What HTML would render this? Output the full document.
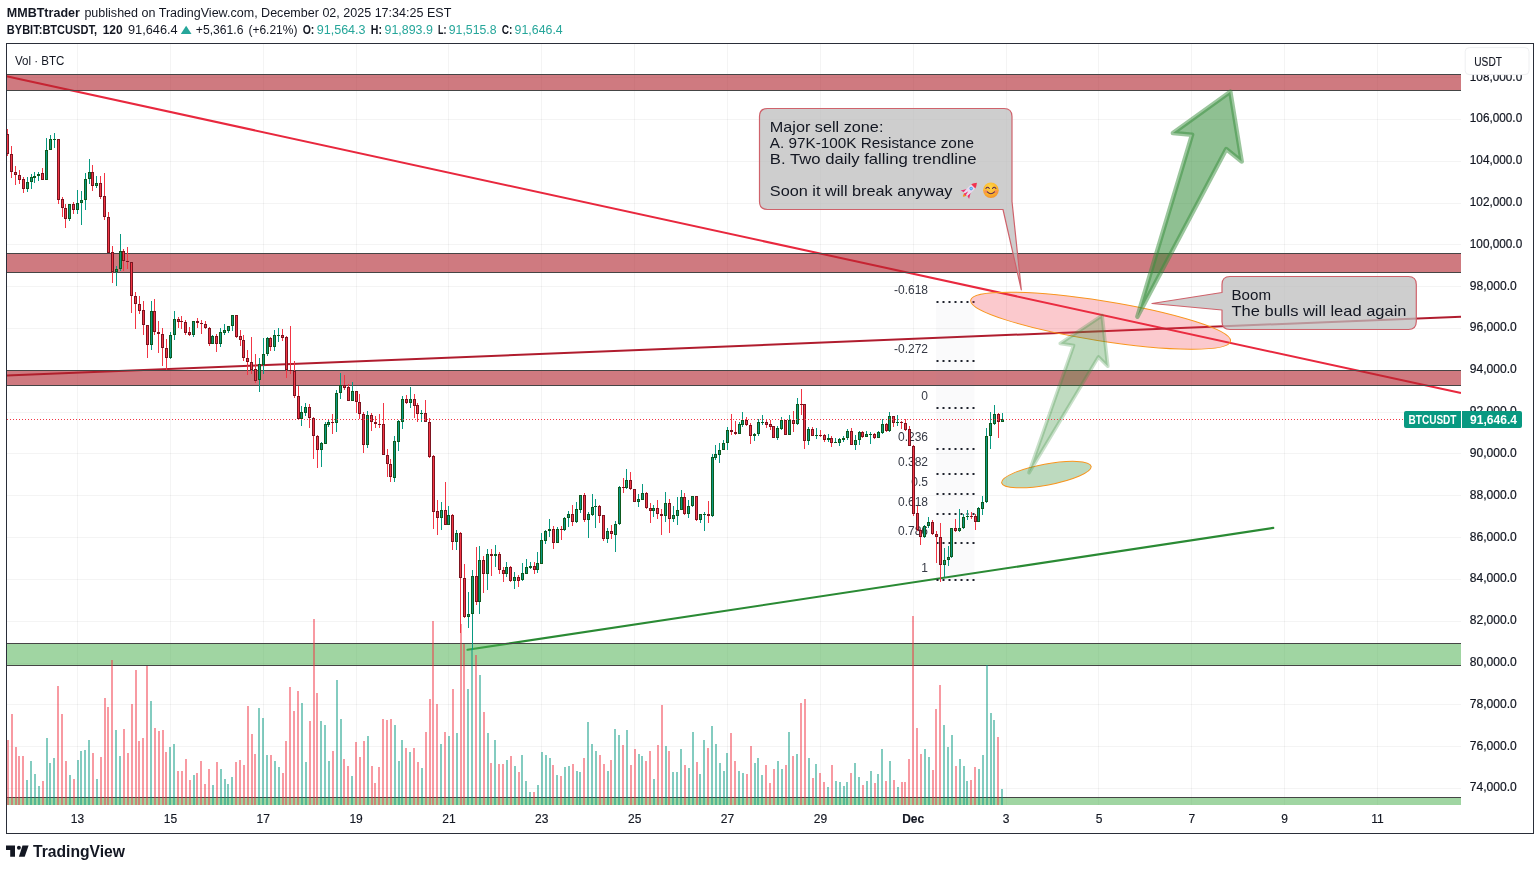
<!DOCTYPE html>
<html><head><meta charset="utf-8"><title>BTCUSDT chart</title>
<style>
html,body{margin:0;padding:0;background:#fff;}
body{width:1540px;height:870px;position:relative;overflow:hidden;font-family:"Liberation Sans",sans-serif;color:#131722;}
.h{position:absolute;left:6px;white-space:nowrap;font-size:12px;line-height:14px;}
.h b{font-weight:bold;}
.t{color:#26a69a;}
svg{position:absolute;left:0;top:0;will-change:transform;}
svg text{font-family:"Liberation Sans",sans-serif;}
</style></head><body>
<svg width="1540" height="870" viewBox="0 0 1540 870" shape-rendering="auto">
<rect x="7" y="119" width="1454" height="1" fill="rgba(50,55,60,0.055)"/>
<rect x="7" y="161" width="1454" height="1" fill="rgba(50,55,60,0.055)"/>
<rect x="7" y="203" width="1454" height="1" fill="rgba(50,55,60,0.055)"/>
<rect x="7" y="244" width="1454" height="1" fill="rgba(50,55,60,0.055)"/>
<rect x="7" y="286" width="1454" height="1" fill="rgba(50,55,60,0.055)"/>
<rect x="7" y="328" width="1454" height="1" fill="rgba(50,55,60,0.055)"/>
<rect x="7" y="370" width="1454" height="1" fill="rgba(50,55,60,0.055)"/>
<rect x="7" y="412" width="1454" height="1" fill="rgba(50,55,60,0.055)"/>
<rect x="7" y="453" width="1454" height="1" fill="rgba(50,55,60,0.055)"/>
<rect x="7" y="495" width="1454" height="1" fill="rgba(50,55,60,0.055)"/>
<rect x="7" y="537" width="1454" height="1" fill="rgba(50,55,60,0.055)"/>
<rect x="7" y="579" width="1454" height="1" fill="rgba(50,55,60,0.055)"/>
<rect x="7" y="621" width="1454" height="1" fill="rgba(50,55,60,0.055)"/>
<rect x="7" y="663" width="1454" height="1" fill="rgba(50,55,60,0.055)"/>
<rect x="7" y="704" width="1454" height="1" fill="rgba(50,55,60,0.055)"/>
<rect x="7" y="746" width="1454" height="1" fill="rgba(50,55,60,0.055)"/>
<rect x="7" y="788" width="1454" height="1" fill="rgba(50,55,60,0.055)"/>
<rect x="7" y="77" width="1454" height="1" fill="rgba(50,55,60,0.055)"/>
<rect x="77" y="44" width="1" height="761" fill="rgba(50,55,60,0.055)"/>
<rect x="170" y="44" width="1" height="761" fill="rgba(50,55,60,0.055)"/>
<rect x="263" y="44" width="1" height="761" fill="rgba(50,55,60,0.055)"/>
<rect x="356" y="44" width="1" height="761" fill="rgba(50,55,60,0.055)"/>
<rect x="448" y="44" width="1" height="761" fill="rgba(50,55,60,0.055)"/>
<rect x="541" y="44" width="1" height="761" fill="rgba(50,55,60,0.055)"/>
<rect x="634" y="44" width="1" height="761" fill="rgba(50,55,60,0.055)"/>
<rect x="727" y="44" width="1" height="761" fill="rgba(50,55,60,0.055)"/>
<rect x="820" y="44" width="1" height="761" fill="rgba(50,55,60,0.055)"/>
<rect x="913" y="44" width="1" height="761" fill="rgba(50,55,60,0.055)"/>
<rect x="1006" y="44" width="1" height="761" fill="rgba(50,55,60,0.055)"/>
<rect x="1098" y="44" width="1" height="761" fill="rgba(50,55,60,0.055)"/>
<rect x="1191" y="44" width="1" height="761" fill="rgba(50,55,60,0.055)"/>
<rect x="1284" y="44" width="1" height="761" fill="rgba(50,55,60,0.055)"/>
<rect x="1377" y="44" width="1" height="761" fill="rgba(50,55,60,0.055)"/>
<line x1="6.5" y1="76.3" x2="1461" y2="393.1" stroke="#e8283e" stroke-width="2"/>
<line x1="6.5" y1="375.5" x2="1461" y2="316.7" stroke="#b01c2e" stroke-width="2"/>
<line x1="467.5" y1="649.8" x2="1273.3" y2="527.9" stroke="#2a8a34" stroke-width="2.1" stroke-linecap="round"/>
<rect x="7" y="74" width="1454" height="16" fill="rgba(175,33,43,0.6)"/>
<rect x="7" y="74" width="1454" height="1" fill="#454545"/>
<rect x="7" y="90" width="1454" height="1" fill="#454545"/>
<rect x="7" y="253" width="1454" height="19" fill="rgba(175,33,43,0.6)"/>
<rect x="7" y="253" width="1454" height="1" fill="#454545"/>
<rect x="7" y="272" width="1454" height="1" fill="#454545"/>
<rect x="7" y="370" width="1454" height="15" fill="rgba(175,33,43,0.6)"/>
<rect x="7" y="370" width="1454" height="1" fill="#454545"/>
<rect x="7" y="385" width="1454" height="1" fill="#454545"/>
<rect x="7" y="643" width="1454" height="22" fill="rgba(76,175,80,0.53)"/>
<rect x="7" y="643" width="1454" height="1" fill="#454545"/>
<rect x="7" y="665" width="1454" height="1" fill="#454545"/>
<rect x="7" y="797" width="1454" height="8" fill="rgba(76,175,80,0.53)"/>
<rect x="7" y="797" width="1454" height="1" fill="#454545"/>
<rect x="936" y="301.8" width="38.5" height="278.0" fill="rgba(120,123,134,0.035)"/>
<rect x="936.5" y="301" width="2" height="2" fill="#1e222d"/>
<rect x="942.5" y="301" width="2" height="2" fill="#1e222d"/>
<rect x="948.5" y="301" width="2" height="2" fill="#1e222d"/>
<rect x="954.5" y="301" width="2" height="2" fill="#1e222d"/>
<rect x="960.5" y="301" width="2" height="2" fill="#1e222d"/>
<rect x="966.5" y="301" width="2" height="2" fill="#1e222d"/>
<rect x="972.5" y="301" width="2" height="2" fill="#1e222d"/>
<text x="928" y="293.8" text-anchor="end" font-size="12" fill="#363a45">-0.618</text>
<rect x="936.5" y="360" width="2" height="2" fill="#1e222d"/>
<rect x="942.5" y="360" width="2" height="2" fill="#1e222d"/>
<rect x="948.5" y="360" width="2" height="2" fill="#1e222d"/>
<rect x="954.5" y="360" width="2" height="2" fill="#1e222d"/>
<rect x="960.5" y="360" width="2" height="2" fill="#1e222d"/>
<rect x="966.5" y="360" width="2" height="2" fill="#1e222d"/>
<rect x="972.5" y="360" width="2" height="2" fill="#1e222d"/>
<text x="928" y="353.3" text-anchor="end" font-size="12" fill="#363a45">-0.272</text>
<rect x="936.5" y="407" width="2" height="2" fill="#1e222d"/>
<rect x="942.5" y="407" width="2" height="2" fill="#1e222d"/>
<rect x="948.5" y="407" width="2" height="2" fill="#1e222d"/>
<rect x="954.5" y="407" width="2" height="2" fill="#1e222d"/>
<rect x="960.5" y="407" width="2" height="2" fill="#1e222d"/>
<rect x="966.5" y="407" width="2" height="2" fill="#1e222d"/>
<rect x="972.5" y="407" width="2" height="2" fill="#1e222d"/>
<text x="928" y="400.0" text-anchor="end" font-size="12" fill="#363a45">0</text>
<rect x="936.5" y="448" width="2" height="2" fill="#1e222d"/>
<rect x="942.5" y="448" width="2" height="2" fill="#1e222d"/>
<rect x="948.5" y="448" width="2" height="2" fill="#1e222d"/>
<rect x="954.5" y="448" width="2" height="2" fill="#1e222d"/>
<rect x="960.5" y="448" width="2" height="2" fill="#1e222d"/>
<rect x="966.5" y="448" width="2" height="2" fill="#1e222d"/>
<rect x="972.5" y="448" width="2" height="2" fill="#1e222d"/>
<text x="928" y="440.5" text-anchor="end" font-size="12" fill="#363a45">0.236</text>
<rect x="936.5" y="473" width="2" height="2" fill="#1e222d"/>
<rect x="942.5" y="473" width="2" height="2" fill="#1e222d"/>
<rect x="948.5" y="473" width="2" height="2" fill="#1e222d"/>
<rect x="954.5" y="473" width="2" height="2" fill="#1e222d"/>
<rect x="960.5" y="473" width="2" height="2" fill="#1e222d"/>
<rect x="966.5" y="473" width="2" height="2" fill="#1e222d"/>
<rect x="972.5" y="473" width="2" height="2" fill="#1e222d"/>
<text x="928" y="465.6" text-anchor="end" font-size="12" fill="#363a45">0.382</text>
<rect x="936.5" y="493" width="2" height="2" fill="#1e222d"/>
<rect x="942.5" y="493" width="2" height="2" fill="#1e222d"/>
<rect x="948.5" y="493" width="2" height="2" fill="#1e222d"/>
<rect x="954.5" y="493" width="2" height="2" fill="#1e222d"/>
<rect x="960.5" y="493" width="2" height="2" fill="#1e222d"/>
<rect x="966.5" y="493" width="2" height="2" fill="#1e222d"/>
<rect x="972.5" y="493" width="2" height="2" fill="#1e222d"/>
<text x="928" y="485.9" text-anchor="end" font-size="12" fill="#363a45">0.5</text>
<rect x="936.5" y="513" width="2" height="2" fill="#1e222d"/>
<rect x="942.5" y="513" width="2" height="2" fill="#1e222d"/>
<rect x="948.5" y="513" width="2" height="2" fill="#1e222d"/>
<rect x="954.5" y="513" width="2" height="2" fill="#1e222d"/>
<rect x="960.5" y="513" width="2" height="2" fill="#1e222d"/>
<rect x="966.5" y="513" width="2" height="2" fill="#1e222d"/>
<rect x="972.5" y="513" width="2" height="2" fill="#1e222d"/>
<text x="928" y="506.2" text-anchor="end" font-size="12" fill="#363a45">0.618</text>
<rect x="936.5" y="542" width="2" height="2" fill="#1e222d"/>
<rect x="942.5" y="542" width="2" height="2" fill="#1e222d"/>
<rect x="948.5" y="542" width="2" height="2" fill="#1e222d"/>
<rect x="954.5" y="542" width="2" height="2" fill="#1e222d"/>
<rect x="960.5" y="542" width="2" height="2" fill="#1e222d"/>
<rect x="966.5" y="542" width="2" height="2" fill="#1e222d"/>
<rect x="972.5" y="542" width="2" height="2" fill="#1e222d"/>
<text x="928" y="535.0" text-anchor="end" font-size="12" fill="#363a45">0.786</text>
<rect x="936.5" y="579" width="2" height="2" fill="#1e222d"/>
<rect x="942.5" y="579" width="2" height="2" fill="#1e222d"/>
<rect x="948.5" y="579" width="2" height="2" fill="#1e222d"/>
<rect x="954.5" y="579" width="2" height="2" fill="#1e222d"/>
<rect x="960.5" y="579" width="2" height="2" fill="#1e222d"/>
<rect x="966.5" y="579" width="2" height="2" fill="#1e222d"/>
<rect x="972.5" y="579" width="2" height="2" fill="#1e222d"/>
<text x="928" y="571.8" text-anchor="end" font-size="12" fill="#363a45">1</text>
<ellipse cx="1100.6" cy="320.7" rx="131.5" ry="20" transform="rotate(9 1100.6 320.7)" fill="rgba(242,54,69,0.27)" stroke="#f8951f" stroke-width="1"/>
<ellipse cx="1046.4" cy="474.6" rx="45.5" ry="10.5" transform="rotate(-10.5 1046.4 474.6)" fill="rgba(56,142,60,0.33)" stroke="#f8951f" stroke-width="1"/>
<polygon points="1029,472.7 1073.6,345.5 1060.2,343.4 1102.1,315.5 1107.8,366.2 1098.4,356.9" fill="rgba(56,142,60,0.32)" stroke="rgba(56,142,60,0.27)" stroke-width="3.6" stroke-linejoin="round"/>
<polygon points="1137.4,316.7 1192.1,134.7 1172.9,133.1 1230.3,91.7 1241.7,161.5 1226.2,149.1" fill="rgba(56,142,60,0.56)" stroke="rgba(56,142,60,0.5)" stroke-width="4.5" stroke-linejoin="round"/>
<path d="M767.5,108.5 L1004,108.5 Q1012,108.5 1012,116.5 L1012,201.5 L1021.3,289.8 L1003,209.5 L767.5,209.5 Q759.5,209.5 759.5,201.5 L759.5,116.5 Q759.5,108.5 767.5,108.5 Z" fill="rgba(190,190,190,0.75)" stroke="#cf626b" stroke-width="1.2" stroke-linejoin="round"/>
<path d="M1230,276.5 L1408.3,276.5 Q1416.3,276.5 1416.3,284.5 L1416.3,321.5 Q1416.3,329.5 1408.3,329.5 L1230,329.5 Q1222,329.5 1222,321.5 L1222,310 L1152,303.5 L1222,292.5 L1222,284.5 Q1222,276.5 1230,276.5 Z" fill="rgba(190,190,190,0.75)" stroke="#cf626b" stroke-width="1.2" stroke-linejoin="round"/>
<text x="769.8" y="132.0" font-size="14.6" fill="#131722" textLength="113.6" lengthAdjust="spacingAndGlyphs">Major sell zone:</text>
<text x="769.8" y="147.9" font-size="14.6" fill="#131722" textLength="204.1" lengthAdjust="spacingAndGlyphs">A. 97K-100K Resistance zone</text>
<text x="769.8" y="163.8" font-size="14.6" fill="#131722" textLength="206.7" lengthAdjust="spacingAndGlyphs">B. Two daily falling trendline</text>
<text x="769.8" y="195.6" font-size="14.6" fill="#131722" textLength="182.6" lengthAdjust="spacingAndGlyphs">Soon it will break anyway</text>
<text x="1231.5" y="300" font-size="14.6" fill="#131722" textLength="39.5" lengthAdjust="spacingAndGlyphs">Boom</text>
<text x="1231.5" y="315.8" font-size="14.6" fill="#131722" textLength="175" lengthAdjust="spacingAndGlyphs">The bulls will lead again</text>
<defs><radialGradient id="sm" cx="0.45" cy="0.3" r="0.75"><stop offset="0" stop-color="#ffd84a"/><stop offset="0.6" stop-color="#fdb52e"/><stop offset="1" stop-color="#f08c2a"/></radialGradient></defs>
<g transform="translate(969.3,190.3) rotate(45)"><path d="M-1.7,5.2 Q0,12.5 1.7,5.2 Z" fill="#f7941d"/><path d="M-2.5,0.5 L-6,6.3 L-2.3,5.2 Z" fill="#ee2f72"/><path d="M2.5,0.5 L6,6.3 L2.3,5.2 Z" fill="#ee2f72"/><path d="M0,-10.8 Q3.4,-6.5 2.9,-1 L2.5,5.4 H-2.5 L-2.9,-1 Q-3.4,-6.5 0,-10.8 Z" fill="#e9d9ee"/><path d="M0,-10.8 Q2.4,-8 2.95,-5.6 H-2.95 Q-2.4,-8 0,-10.8 Z" fill="#f0344e"/><circle cx="0" cy="-2.6" r="1.7" fill="#4da3ea"/><circle cx="0" cy="-2.6" r="0.8" fill="#8fd0ff"/><path d="M0,1.5 L-1.2,6.6 H1.2 Z" fill="#ee2f72"/></g>
<g transform="translate(990.9,190.3)"><circle r="7.8" fill="url(#sm)"/><circle cx="-5" cy="1.3" r="1.7" fill="#f4845f" opacity="0.75"/><circle cx="5" cy="1.3" r="1.7" fill="#f4845f" opacity="0.75"/><path d="M-5,-1.8 q1.7,-2.4 3.4,0 M1.6,-1.8 q1.7,-2.4 3.4,0" stroke="#5b2a55" stroke-width="1.05" fill="none" stroke-linecap="round"/><path d="M-3.6,1.6 q3.6,3.6 7.2,0" stroke="#5b2a55" stroke-width="1.05" fill="none" stroke-linecap="round"/></g>
<rect x="7" y="740" width="2" height="65" fill="rgba(242,54,69,0.5)"/>
<rect x="11" y="714" width="2" height="91" fill="rgba(242,54,69,0.5)"/>
<rect x="15" y="747" width="2" height="58" fill="rgba(242,54,69,0.5)"/>
<rect x="18" y="756" width="2" height="49" fill="rgba(242,54,69,0.5)"/>
<rect x="22" y="756" width="2" height="49" fill="rgba(242,54,69,0.5)"/>
<rect x="26" y="780" width="2" height="25" fill="rgba(8,153,129,0.5)"/>
<rect x="30" y="761" width="2" height="44" fill="rgba(8,153,129,0.5)"/>
<rect x="34" y="774" width="2" height="31" fill="rgba(8,153,129,0.5)"/>
<rect x="38" y="786" width="2" height="19" fill="rgba(8,153,129,0.5)"/>
<rect x="42" y="781" width="2" height="24" fill="rgba(242,54,69,0.5)"/>
<rect x="46" y="738" width="2" height="67" fill="rgba(8,153,129,0.5)"/>
<rect x="49" y="763" width="2" height="42" fill="rgba(8,153,129,0.5)"/>
<rect x="53" y="758" width="2" height="47" fill="rgba(8,153,129,0.5)"/>
<rect x="57" y="686" width="2" height="119" fill="rgba(242,54,69,0.5)"/>
<rect x="61" y="714" width="2" height="91" fill="rgba(242,54,69,0.5)"/>
<rect x="65" y="761" width="2" height="44" fill="rgba(242,54,69,0.5)"/>
<rect x="69" y="775" width="2" height="30" fill="rgba(8,153,129,0.5)"/>
<rect x="73" y="779" width="2" height="26" fill="rgba(242,54,69,0.5)"/>
<rect x="77" y="760" width="2" height="45" fill="rgba(8,153,129,0.5)"/>
<rect x="80" y="751" width="2" height="54" fill="rgba(8,153,129,0.5)"/>
<rect x="84" y="750" width="2" height="55" fill="rgba(8,153,129,0.5)"/>
<rect x="88" y="740" width="2" height="65" fill="rgba(8,153,129,0.5)"/>
<rect x="92" y="753" width="2" height="52" fill="rgba(242,54,69,0.5)"/>
<rect x="96" y="779" width="2" height="26" fill="rgba(8,153,129,0.5)"/>
<rect x="100" y="757" width="2" height="48" fill="rgba(242,54,69,0.5)"/>
<rect x="104" y="698" width="2" height="107" fill="rgba(242,54,69,0.5)"/>
<rect x="107" y="707" width="2" height="98" fill="rgba(242,54,69,0.5)"/>
<rect x="111" y="660" width="2" height="145" fill="rgba(242,54,69,0.5)"/>
<rect x="115" y="730" width="2" height="75" fill="rgba(8,153,129,0.5)"/>
<rect x="119" y="756" width="2" height="49" fill="rgba(8,153,129,0.5)"/>
<rect x="123" y="729" width="2" height="76" fill="rgba(242,54,69,0.5)"/>
<rect x="127" y="753" width="2" height="52" fill="rgba(242,54,69,0.5)"/>
<rect x="131" y="704" width="2" height="101" fill="rgba(242,54,69,0.5)"/>
<rect x="135" y="670" width="2" height="135" fill="rgba(242,54,69,0.5)"/>
<rect x="138" y="741" width="2" height="64" fill="rgba(242,54,69,0.5)"/>
<rect x="142" y="738" width="2" height="67" fill="rgba(242,54,69,0.5)"/>
<rect x="146" y="666" width="2" height="139" fill="rgba(242,54,69,0.5)"/>
<rect x="150" y="701" width="2" height="104" fill="rgba(8,153,129,0.5)"/>
<rect x="154" y="728" width="2" height="77" fill="rgba(242,54,69,0.5)"/>
<rect x="158" y="731" width="2" height="74" fill="rgba(242,54,69,0.5)"/>
<rect x="162" y="730" width="2" height="75" fill="rgba(242,54,69,0.5)"/>
<rect x="165" y="752" width="2" height="53" fill="rgba(242,54,69,0.5)"/>
<rect x="169" y="747" width="2" height="58" fill="rgba(8,153,129,0.5)"/>
<rect x="173" y="744" width="2" height="61" fill="rgba(8,153,129,0.5)"/>
<rect x="177" y="771" width="2" height="34" fill="rgba(242,54,69,0.5)"/>
<rect x="181" y="771" width="2" height="34" fill="rgba(242,54,69,0.5)"/>
<rect x="185" y="759" width="2" height="46" fill="rgba(242,54,69,0.5)"/>
<rect x="189" y="780" width="2" height="25" fill="rgba(242,54,69,0.5)"/>
<rect x="193" y="775" width="2" height="30" fill="rgba(8,153,129,0.5)"/>
<rect x="196" y="773" width="2" height="32" fill="rgba(242,54,69,0.5)"/>
<rect x="200" y="761" width="2" height="44" fill="rgba(242,54,69,0.5)"/>
<rect x="204" y="784" width="2" height="21" fill="rgba(242,54,69,0.5)"/>
<rect x="208" y="769" width="2" height="36" fill="rgba(242,54,69,0.5)"/>
<rect x="212" y="785" width="2" height="20" fill="rgba(8,153,129,0.5)"/>
<rect x="216" y="762" width="2" height="43" fill="rgba(242,54,69,0.5)"/>
<rect x="220" y="769" width="2" height="36" fill="rgba(8,153,129,0.5)"/>
<rect x="224" y="779" width="2" height="26" fill="rgba(8,153,129,0.5)"/>
<rect x="227" y="784" width="2" height="21" fill="rgba(8,153,129,0.5)"/>
<rect x="231" y="777" width="2" height="28" fill="rgba(8,153,129,0.5)"/>
<rect x="235" y="762" width="2" height="43" fill="rgba(242,54,69,0.5)"/>
<rect x="239" y="760" width="2" height="45" fill="rgba(242,54,69,0.5)"/>
<rect x="243" y="765" width="2" height="40" fill="rgba(242,54,69,0.5)"/>
<rect x="247" y="706" width="2" height="99" fill="rgba(242,54,69,0.5)"/>
<rect x="251" y="734" width="2" height="71" fill="rgba(242,54,69,0.5)"/>
<rect x="254" y="754" width="2" height="51" fill="rgba(242,54,69,0.5)"/>
<rect x="258" y="708" width="2" height="97" fill="rgba(8,153,129,0.5)"/>
<rect x="262" y="718" width="2" height="87" fill="rgba(8,153,129,0.5)"/>
<rect x="266" y="755" width="2" height="50" fill="rgba(8,153,129,0.5)"/>
<rect x="270" y="755" width="2" height="50" fill="rgba(242,54,69,0.5)"/>
<rect x="274" y="761" width="2" height="44" fill="rgba(8,153,129,0.5)"/>
<rect x="278" y="767" width="2" height="38" fill="rgba(8,153,129,0.5)"/>
<rect x="282" y="773" width="2" height="32" fill="rgba(242,54,69,0.5)"/>
<rect x="285" y="741" width="2" height="64" fill="rgba(242,54,69,0.5)"/>
<rect x="289" y="687" width="2" height="118" fill="rgba(242,54,69,0.5)"/>
<rect x="293" y="711" width="2" height="94" fill="rgba(242,54,69,0.5)"/>
<rect x="297" y="691" width="2" height="114" fill="rgba(242,54,69,0.5)"/>
<rect x="301" y="703" width="2" height="102" fill="rgba(8,153,129,0.5)"/>
<rect x="305" y="762" width="2" height="43" fill="rgba(8,153,129,0.5)"/>
<rect x="309" y="721" width="2" height="84" fill="rgba(242,54,69,0.5)"/>
<rect x="313" y="619" width="2" height="186" fill="rgba(242,54,69,0.5)"/>
<rect x="316" y="693" width="2" height="112" fill="rgba(242,54,69,0.5)"/>
<rect x="320" y="721" width="2" height="84" fill="rgba(8,153,129,0.5)"/>
<rect x="324" y="725" width="2" height="80" fill="rgba(8,153,129,0.5)"/>
<rect x="328" y="761" width="2" height="44" fill="rgba(8,153,129,0.5)"/>
<rect x="332" y="751" width="2" height="54" fill="rgba(242,54,69,0.5)"/>
<rect x="336" y="680" width="2" height="125" fill="rgba(8,153,129,0.5)"/>
<rect x="340" y="719" width="2" height="86" fill="rgba(8,153,129,0.5)"/>
<rect x="343" y="759" width="2" height="46" fill="rgba(242,54,69,0.5)"/>
<rect x="347" y="766" width="2" height="39" fill="rgba(242,54,69,0.5)"/>
<rect x="351" y="776" width="2" height="29" fill="rgba(8,153,129,0.5)"/>
<rect x="355" y="742" width="2" height="63" fill="rgba(242,54,69,0.5)"/>
<rect x="359" y="757" width="2" height="48" fill="rgba(242,54,69,0.5)"/>
<rect x="363" y="741" width="2" height="64" fill="rgba(242,54,69,0.5)"/>
<rect x="367" y="736" width="2" height="69" fill="rgba(8,153,129,0.5)"/>
<rect x="371" y="766" width="2" height="39" fill="rgba(242,54,69,0.5)"/>
<rect x="374" y="783" width="2" height="22" fill="rgba(242,54,69,0.5)"/>
<rect x="378" y="767" width="2" height="38" fill="rgba(242,54,69,0.5)"/>
<rect x="382" y="719" width="2" height="86" fill="rgba(242,54,69,0.5)"/>
<rect x="386" y="720" width="2" height="85" fill="rgba(242,54,69,0.5)"/>
<rect x="390" y="719" width="2" height="86" fill="rgba(242,54,69,0.5)"/>
<rect x="394" y="725" width="2" height="80" fill="rgba(8,153,129,0.5)"/>
<rect x="398" y="761" width="2" height="44" fill="rgba(8,153,129,0.5)"/>
<rect x="401" y="740" width="2" height="65" fill="rgba(8,153,129,0.5)"/>
<rect x="405" y="748" width="2" height="57" fill="rgba(242,54,69,0.5)"/>
<rect x="409" y="752" width="2" height="53" fill="rgba(8,153,129,0.5)"/>
<rect x="413" y="748" width="2" height="57" fill="rgba(242,54,69,0.5)"/>
<rect x="417" y="762" width="2" height="43" fill="rgba(242,54,69,0.5)"/>
<rect x="421" y="768" width="2" height="37" fill="rgba(8,153,129,0.5)"/>
<rect x="425" y="732" width="2" height="73" fill="rgba(242,54,69,0.5)"/>
<rect x="429" y="699" width="2" height="106" fill="rgba(242,54,69,0.5)"/>
<rect x="432" y="621" width="2" height="184" fill="rgba(242,54,69,0.5)"/>
<rect x="436" y="704" width="2" height="101" fill="rgba(242,54,69,0.5)"/>
<rect x="440" y="744" width="2" height="61" fill="rgba(8,153,129,0.5)"/>
<rect x="444" y="732" width="2" height="73" fill="rgba(242,54,69,0.5)"/>
<rect x="448" y="736" width="2" height="69" fill="rgba(8,153,129,0.5)"/>
<rect x="452" y="689" width="2" height="116" fill="rgba(242,54,69,0.5)"/>
<rect x="456" y="733" width="2" height="72" fill="rgba(8,153,129,0.5)"/>
<rect x="460" y="624" width="2" height="181" fill="rgba(242,54,69,0.5)"/>
<rect x="463" y="644" width="2" height="161" fill="rgba(242,54,69,0.5)"/>
<rect x="467" y="689" width="2" height="116" fill="rgba(8,153,129,0.5)"/>
<rect x="471" y="649" width="2" height="156" fill="rgba(8,153,129,0.5)"/>
<rect x="475" y="655" width="2" height="150" fill="rgba(242,54,69,0.5)"/>
<rect x="479" y="675" width="2" height="130" fill="rgba(8,153,129,0.5)"/>
<rect x="483" y="712" width="2" height="93" fill="rgba(242,54,69,0.5)"/>
<rect x="487" y="733" width="2" height="72" fill="rgba(8,153,129,0.5)"/>
<rect x="490" y="763" width="2" height="42" fill="rgba(242,54,69,0.5)"/>
<rect x="494" y="740" width="2" height="65" fill="rgba(8,153,129,0.5)"/>
<rect x="498" y="764" width="2" height="41" fill="rgba(242,54,69,0.5)"/>
<rect x="502" y="764" width="2" height="41" fill="rgba(242,54,69,0.5)"/>
<rect x="506" y="760" width="2" height="45" fill="rgba(8,153,129,0.5)"/>
<rect x="510" y="756" width="2" height="49" fill="rgba(242,54,69,0.5)"/>
<rect x="514" y="766" width="2" height="39" fill="rgba(8,153,129,0.5)"/>
<rect x="518" y="772" width="2" height="33" fill="rgba(242,54,69,0.5)"/>
<rect x="521" y="755" width="2" height="50" fill="rgba(8,153,129,0.5)"/>
<rect x="525" y="781" width="2" height="24" fill="rgba(8,153,129,0.5)"/>
<rect x="529" y="792" width="2" height="13" fill="rgba(8,153,129,0.5)"/>
<rect x="533" y="792" width="2" height="13" fill="rgba(242,54,69,0.5)"/>
<rect x="537" y="785" width="2" height="20" fill="rgba(8,153,129,0.5)"/>
<rect x="541" y="752" width="2" height="53" fill="rgba(8,153,129,0.5)"/>
<rect x="545" y="755" width="2" height="50" fill="rgba(8,153,129,0.5)"/>
<rect x="549" y="758" width="2" height="47" fill="rgba(8,153,129,0.5)"/>
<rect x="552" y="765" width="2" height="40" fill="rgba(242,54,69,0.5)"/>
<rect x="556" y="775" width="2" height="30" fill="rgba(8,153,129,0.5)"/>
<rect x="560" y="776" width="2" height="29" fill="rgba(242,54,69,0.5)"/>
<rect x="564" y="767" width="2" height="38" fill="rgba(8,153,129,0.5)"/>
<rect x="568" y="766" width="2" height="39" fill="rgba(8,153,129,0.5)"/>
<rect x="572" y="764" width="2" height="41" fill="rgba(242,54,69,0.5)"/>
<rect x="576" y="771" width="2" height="34" fill="rgba(8,153,129,0.5)"/>
<rect x="579" y="772" width="2" height="33" fill="rgba(8,153,129,0.5)"/>
<rect x="583" y="758" width="2" height="47" fill="rgba(242,54,69,0.5)"/>
<rect x="587" y="722" width="2" height="83" fill="rgba(8,153,129,0.5)"/>
<rect x="591" y="744" width="2" height="61" fill="rgba(8,153,129,0.5)"/>
<rect x="595" y="751" width="2" height="54" fill="rgba(8,153,129,0.5)"/>
<rect x="599" y="755" width="2" height="50" fill="rgba(242,54,69,0.5)"/>
<rect x="603" y="764" width="2" height="41" fill="rgba(242,54,69,0.5)"/>
<rect x="607" y="771" width="2" height="34" fill="rgba(8,153,129,0.5)"/>
<rect x="610" y="760" width="2" height="45" fill="rgba(242,54,69,0.5)"/>
<rect x="614" y="729" width="2" height="76" fill="rgba(8,153,129,0.5)"/>
<rect x="618" y="735" width="2" height="70" fill="rgba(8,153,129,0.5)"/>
<rect x="622" y="745" width="2" height="60" fill="rgba(242,54,69,0.5)"/>
<rect x="626" y="730" width="2" height="75" fill="rgba(8,153,129,0.5)"/>
<rect x="630" y="765" width="2" height="40" fill="rgba(242,54,69,0.5)"/>
<rect x="634" y="749" width="2" height="56" fill="rgba(242,54,69,0.5)"/>
<rect x="638" y="754" width="2" height="51" fill="rgba(8,153,129,0.5)"/>
<rect x="641" y="756" width="2" height="49" fill="rgba(8,153,129,0.5)"/>
<rect x="645" y="761" width="2" height="44" fill="rgba(242,54,69,0.5)"/>
<rect x="649" y="751" width="2" height="54" fill="rgba(242,54,69,0.5)"/>
<rect x="653" y="779" width="2" height="26" fill="rgba(8,153,129,0.5)"/>
<rect x="657" y="745" width="2" height="60" fill="rgba(242,54,69,0.5)"/>
<rect x="661" y="705" width="2" height="100" fill="rgba(242,54,69,0.5)"/>
<rect x="665" y="746" width="2" height="59" fill="rgba(8,153,129,0.5)"/>
<rect x="668" y="751" width="2" height="54" fill="rgba(242,54,69,0.5)"/>
<rect x="672" y="772" width="2" height="33" fill="rgba(8,153,129,0.5)"/>
<rect x="676" y="772" width="2" height="33" fill="rgba(8,153,129,0.5)"/>
<rect x="680" y="749" width="2" height="56" fill="rgba(8,153,129,0.5)"/>
<rect x="684" y="765" width="2" height="40" fill="rgba(242,54,69,0.5)"/>
<rect x="688" y="768" width="2" height="37" fill="rgba(8,153,129,0.5)"/>
<rect x="692" y="732" width="2" height="73" fill="rgba(8,153,129,0.5)"/>
<rect x="696" y="762" width="2" height="43" fill="rgba(242,54,69,0.5)"/>
<rect x="699" y="774" width="2" height="31" fill="rgba(8,153,129,0.5)"/>
<rect x="703" y="740" width="2" height="65" fill="rgba(8,153,129,0.5)"/>
<rect x="707" y="748" width="2" height="57" fill="rgba(242,54,69,0.5)"/>
<rect x="711" y="726" width="2" height="79" fill="rgba(8,153,129,0.5)"/>
<rect x="715" y="744" width="2" height="61" fill="rgba(8,153,129,0.5)"/>
<rect x="719" y="763" width="2" height="42" fill="rgba(8,153,129,0.5)"/>
<rect x="723" y="771" width="2" height="34" fill="rgba(8,153,129,0.5)"/>
<rect x="726" y="753" width="2" height="52" fill="rgba(8,153,129,0.5)"/>
<rect x="730" y="733" width="2" height="72" fill="rgba(242,54,69,0.5)"/>
<rect x="734" y="761" width="2" height="44" fill="rgba(242,54,69,0.5)"/>
<rect x="738" y="771" width="2" height="34" fill="rgba(8,153,129,0.5)"/>
<rect x="742" y="773" width="2" height="32" fill="rgba(8,153,129,0.5)"/>
<rect x="746" y="774" width="2" height="31" fill="rgba(242,54,69,0.5)"/>
<rect x="750" y="746" width="2" height="59" fill="rgba(242,54,69,0.5)"/>
<rect x="754" y="763" width="2" height="42" fill="rgba(8,153,129,0.5)"/>
<rect x="757" y="758" width="2" height="47" fill="rgba(8,153,129,0.5)"/>
<rect x="761" y="775" width="2" height="30" fill="rgba(8,153,129,0.5)"/>
<rect x="765" y="765" width="2" height="40" fill="rgba(242,54,69,0.5)"/>
<rect x="769" y="783" width="2" height="22" fill="rgba(242,54,69,0.5)"/>
<rect x="773" y="769" width="2" height="36" fill="rgba(242,54,69,0.5)"/>
<rect x="777" y="761" width="2" height="44" fill="rgba(8,153,129,0.5)"/>
<rect x="781" y="769" width="2" height="36" fill="rgba(8,153,129,0.5)"/>
<rect x="785" y="765" width="2" height="40" fill="rgba(242,54,69,0.5)"/>
<rect x="788" y="732" width="2" height="73" fill="rgba(8,153,129,0.5)"/>
<rect x="792" y="756" width="2" height="49" fill="rgba(242,54,69,0.5)"/>
<rect x="796" y="754" width="2" height="51" fill="rgba(8,153,129,0.5)"/>
<rect x="800" y="703" width="2" height="102" fill="rgba(242,54,69,0.5)"/>
<rect x="804" y="699" width="2" height="106" fill="rgba(242,54,69,0.5)"/>
<rect x="808" y="758" width="2" height="47" fill="rgba(8,153,129,0.5)"/>
<rect x="812" y="778" width="2" height="27" fill="rgba(242,54,69,0.5)"/>
<rect x="815" y="764" width="2" height="41" fill="rgba(8,153,129,0.5)"/>
<rect x="819" y="773" width="2" height="32" fill="rgba(242,54,69,0.5)"/>
<rect x="823" y="782" width="2" height="23" fill="rgba(242,54,69,0.5)"/>
<rect x="827" y="787" width="2" height="18" fill="rgba(8,153,129,0.5)"/>
<rect x="831" y="765" width="2" height="40" fill="rgba(242,54,69,0.5)"/>
<rect x="835" y="781" width="2" height="24" fill="rgba(8,153,129,0.5)"/>
<rect x="839" y="782" width="2" height="23" fill="rgba(8,153,129,0.5)"/>
<rect x="843" y="786" width="2" height="19" fill="rgba(8,153,129,0.5)"/>
<rect x="846" y="782" width="2" height="23" fill="rgba(8,153,129,0.5)"/>
<rect x="850" y="773" width="2" height="32" fill="rgba(242,54,69,0.5)"/>
<rect x="854" y="763" width="2" height="42" fill="rgba(8,153,129,0.5)"/>
<rect x="858" y="777" width="2" height="28" fill="rgba(8,153,129,0.5)"/>
<rect x="862" y="785" width="2" height="20" fill="rgba(242,54,69,0.5)"/>
<rect x="866" y="781" width="2" height="24" fill="rgba(8,153,129,0.5)"/>
<rect x="870" y="771" width="2" height="34" fill="rgba(8,153,129,0.5)"/>
<rect x="874" y="783" width="2" height="22" fill="rgba(242,54,69,0.5)"/>
<rect x="877" y="774" width="2" height="31" fill="rgba(8,153,129,0.5)"/>
<rect x="881" y="749" width="2" height="56" fill="rgba(8,153,129,0.5)"/>
<rect x="885" y="781" width="2" height="24" fill="rgba(242,54,69,0.5)"/>
<rect x="889" y="761" width="2" height="44" fill="rgba(8,153,129,0.5)"/>
<rect x="893" y="780" width="2" height="25" fill="rgba(242,54,69,0.5)"/>
<rect x="897" y="787" width="2" height="18" fill="rgba(8,153,129,0.5)"/>
<rect x="901" y="782" width="2" height="23" fill="rgba(242,54,69,0.5)"/>
<rect x="904" y="782" width="2" height="23" fill="rgba(242,54,69,0.5)"/>
<rect x="908" y="759" width="2" height="46" fill="rgba(242,54,69,0.5)"/>
<rect x="912" y="616" width="2" height="189" fill="rgba(242,54,69,0.5)"/>
<rect x="916" y="728" width="2" height="77" fill="rgba(242,54,69,0.5)"/>
<rect x="920" y="754" width="2" height="51" fill="rgba(242,54,69,0.5)"/>
<rect x="924" y="749" width="2" height="56" fill="rgba(8,153,129,0.5)"/>
<rect x="928" y="757" width="2" height="48" fill="rgba(8,153,129,0.5)"/>
<rect x="932" y="770" width="2" height="35" fill="rgba(242,54,69,0.5)"/>
<rect x="935" y="709" width="2" height="96" fill="rgba(242,54,69,0.5)"/>
<rect x="939" y="685" width="2" height="120" fill="rgba(242,54,69,0.5)"/>
<rect x="943" y="725" width="2" height="80" fill="rgba(8,153,129,0.5)"/>
<rect x="947" y="747" width="2" height="58" fill="rgba(8,153,129,0.5)"/>
<rect x="951" y="735" width="2" height="70" fill="rgba(8,153,129,0.5)"/>
<rect x="955" y="766" width="2" height="39" fill="rgba(242,54,69,0.5)"/>
<rect x="959" y="759" width="2" height="46" fill="rgba(8,153,129,0.5)"/>
<rect x="963" y="766" width="2" height="39" fill="rgba(8,153,129,0.5)"/>
<rect x="966" y="781" width="2" height="24" fill="rgba(8,153,129,0.5)"/>
<rect x="970" y="780" width="2" height="25" fill="rgba(242,54,69,0.5)"/>
<rect x="974" y="767" width="2" height="38" fill="rgba(242,54,69,0.5)"/>
<rect x="978" y="769" width="2" height="36" fill="rgba(8,153,129,0.5)"/>
<rect x="982" y="755" width="2" height="50" fill="rgba(8,153,129,0.5)"/>
<rect x="986" y="665" width="2" height="140" fill="rgba(8,153,129,0.5)"/>
<rect x="990" y="713" width="2" height="92" fill="rgba(8,153,129,0.5)"/>
<rect x="993" y="720" width="2" height="85" fill="rgba(8,153,129,0.5)"/>
<rect x="997" y="737" width="2" height="68" fill="rgba(242,54,69,0.5)"/>
<rect x="1001" y="789" width="2" height="16" fill="rgba(8,153,129,0.5)"/>
<rect x="7" y="129" width="1" height="27" fill="#f23645"/>
<rect x="6" y="134" width="3" height="20" fill="#7c1420"/>
<rect x="7" y="135" width="1" height="18" fill="#f23645"/>
<rect x="11" y="146" width="1" height="32" fill="#f23645"/>
<rect x="10" y="154" width="3" height="18" fill="#7c1420"/>
<rect x="11" y="155" width="1" height="16" fill="#f23645"/>
<rect x="15" y="166" width="1" height="19" fill="#f23645"/>
<rect x="14" y="172" width="3" height="3" fill="#7c1420"/>
<rect x="15" y="173" width="1" height="1" fill="#f23645"/>
<rect x="19" y="170" width="1" height="14" fill="#f23645"/>
<rect x="18" y="175" width="3" height="5" fill="#7c1420"/>
<rect x="19" y="176" width="1" height="3" fill="#f23645"/>
<rect x="23" y="177" width="1" height="16" fill="#f23645"/>
<rect x="22" y="179" width="3" height="10" fill="#7c1420"/>
<rect x="23" y="180" width="1" height="8" fill="#f23645"/>
<rect x="27" y="177" width="1" height="15" fill="#089981"/>
<rect x="26" y="182" width="3" height="7" fill="#0e5a1e"/>
<rect x="27" y="183" width="1" height="5" fill="#089981"/>
<rect x="31" y="174" width="1" height="15" fill="#089981"/>
<rect x="30" y="177" width="3" height="5" fill="#0e5a1e"/>
<rect x="31" y="178" width="1" height="3" fill="#089981"/>
<rect x="34" y="172" width="1" height="11" fill="#089981"/>
<rect x="33" y="176" width="3" height="2" fill="#0e5a1e"/>
<rect x="38" y="172" width="1" height="9" fill="#089981"/>
<rect x="37" y="174" width="3" height="2" fill="#0e5a1e"/>
<rect x="42" y="168" width="1" height="12" fill="#f23645"/>
<rect x="41" y="173" width="3" height="7" fill="#7c1420"/>
<rect x="42" y="174" width="1" height="5" fill="#f23645"/>
<rect x="46" y="138" width="1" height="42" fill="#089981"/>
<rect x="45" y="150" width="3" height="30" fill="#0e5a1e"/>
<rect x="46" y="151" width="1" height="28" fill="#089981"/>
<rect x="50" y="135" width="1" height="15" fill="#089981"/>
<rect x="49" y="139" width="3" height="11" fill="#0e5a1e"/>
<rect x="50" y="140" width="1" height="9" fill="#089981"/>
<rect x="54" y="133" width="1" height="15" fill="#089981"/>
<rect x="53" y="139" width="3" height="1" fill="#0e5a1e"/>
<rect x="58" y="139" width="1" height="65" fill="#f23645"/>
<rect x="57" y="139" width="3" height="61" fill="#7c1420"/>
<rect x="58" y="140" width="1" height="59" fill="#f23645"/>
<rect x="62" y="197" width="1" height="20" fill="#f23645"/>
<rect x="61" y="199" width="3" height="9" fill="#7c1420"/>
<rect x="62" y="200" width="1" height="7" fill="#f23645"/>
<rect x="65" y="204" width="1" height="24" fill="#f23645"/>
<rect x="64" y="208" width="3" height="11" fill="#7c1420"/>
<rect x="65" y="209" width="1" height="9" fill="#f23645"/>
<rect x="69" y="204" width="1" height="17" fill="#089981"/>
<rect x="68" y="204" width="3" height="15" fill="#0e5a1e"/>
<rect x="69" y="205" width="1" height="13" fill="#089981"/>
<rect x="73" y="202" width="1" height="12" fill="#f23645"/>
<rect x="72" y="204" width="3" height="6" fill="#7c1420"/>
<rect x="73" y="205" width="1" height="4" fill="#f23645"/>
<rect x="77" y="190" width="1" height="24" fill="#089981"/>
<rect x="76" y="203" width="3" height="7" fill="#0e5a1e"/>
<rect x="77" y="204" width="1" height="5" fill="#089981"/>
<rect x="81" y="191" width="1" height="34" fill="#089981"/>
<rect x="80" y="200" width="3" height="3" fill="#0e5a1e"/>
<rect x="81" y="201" width="1" height="1" fill="#089981"/>
<rect x="85" y="173" width="1" height="37" fill="#089981"/>
<rect x="84" y="179" width="3" height="21" fill="#0e5a1e"/>
<rect x="85" y="180" width="1" height="19" fill="#089981"/>
<rect x="89" y="159" width="1" height="25" fill="#089981"/>
<rect x="88" y="172" width="3" height="7" fill="#0e5a1e"/>
<rect x="89" y="173" width="1" height="5" fill="#089981"/>
<rect x="92" y="165" width="1" height="26" fill="#f23645"/>
<rect x="91" y="172" width="3" height="14" fill="#7c1420"/>
<rect x="92" y="173" width="1" height="12" fill="#f23645"/>
<rect x="96" y="176" width="1" height="12" fill="#089981"/>
<rect x="95" y="183" width="3" height="3" fill="#0e5a1e"/>
<rect x="96" y="184" width="1" height="1" fill="#089981"/>
<rect x="100" y="176" width="1" height="23" fill="#f23645"/>
<rect x="99" y="183" width="3" height="14" fill="#7c1420"/>
<rect x="100" y="184" width="1" height="12" fill="#f23645"/>
<rect x="104" y="173" width="1" height="47" fill="#f23645"/>
<rect x="103" y="196" width="3" height="21" fill="#7c1420"/>
<rect x="104" y="197" width="1" height="19" fill="#f23645"/>
<rect x="108" y="212" width="1" height="41" fill="#f23645"/>
<rect x="107" y="217" width="3" height="36" fill="#7c1420"/>
<rect x="108" y="218" width="1" height="34" fill="#f23645"/>
<rect x="112" y="246" width="1" height="37" fill="#f23645"/>
<rect x="111" y="252" width="3" height="20" fill="#7c1420"/>
<rect x="112" y="253" width="1" height="18" fill="#f23645"/>
<rect x="116" y="266" width="1" height="20" fill="#089981"/>
<rect x="115" y="269" width="3" height="3" fill="#0e5a1e"/>
<rect x="116" y="270" width="1" height="1" fill="#089981"/>
<rect x="120" y="234" width="1" height="37" fill="#089981"/>
<rect x="119" y="251" width="3" height="18" fill="#0e5a1e"/>
<rect x="120" y="252" width="1" height="16" fill="#089981"/>
<rect x="123" y="249" width="1" height="22" fill="#f23645"/>
<rect x="122" y="251" width="3" height="10" fill="#7c1420"/>
<rect x="123" y="252" width="1" height="8" fill="#f23645"/>
<rect x="127" y="247" width="1" height="22" fill="#f23645"/>
<rect x="126" y="261" width="3" height="1" fill="#7c1420"/>
<rect x="131" y="262" width="1" height="51" fill="#f23645"/>
<rect x="130" y="262" width="3" height="34" fill="#7c1420"/>
<rect x="131" y="263" width="1" height="32" fill="#f23645"/>
<rect x="135" y="292" width="1" height="37" fill="#f23645"/>
<rect x="134" y="296" width="3" height="8" fill="#7c1420"/>
<rect x="135" y="297" width="1" height="6" fill="#f23645"/>
<rect x="139" y="296" width="1" height="18" fill="#f23645"/>
<rect x="138" y="304" width="3" height="7" fill="#7c1420"/>
<rect x="139" y="305" width="1" height="5" fill="#f23645"/>
<rect x="143" y="301" width="1" height="34" fill="#f23645"/>
<rect x="142" y="310" width="3" height="15" fill="#7c1420"/>
<rect x="143" y="311" width="1" height="13" fill="#f23645"/>
<rect x="147" y="325" width="1" height="33" fill="#f23645"/>
<rect x="146" y="325" width="3" height="20" fill="#7c1420"/>
<rect x="147" y="326" width="1" height="18" fill="#f23645"/>
<rect x="151" y="301" width="1" height="49" fill="#089981"/>
<rect x="150" y="311" width="3" height="34" fill="#0e5a1e"/>
<rect x="151" y="312" width="1" height="32" fill="#089981"/>
<rect x="154" y="299" width="1" height="36" fill="#f23645"/>
<rect x="153" y="311" width="3" height="21" fill="#7c1420"/>
<rect x="154" y="312" width="1" height="19" fill="#f23645"/>
<rect x="158" y="321" width="1" height="32" fill="#f23645"/>
<rect x="157" y="332" width="3" height="2" fill="#7c1420"/>
<rect x="162" y="328" width="1" height="38" fill="#f23645"/>
<rect x="161" y="334" width="3" height="14" fill="#7c1420"/>
<rect x="162" y="335" width="1" height="12" fill="#f23645"/>
<rect x="166" y="339" width="1" height="31" fill="#f23645"/>
<rect x="165" y="348" width="3" height="10" fill="#7c1420"/>
<rect x="166" y="349" width="1" height="8" fill="#f23645"/>
<rect x="170" y="332" width="1" height="27" fill="#089981"/>
<rect x="169" y="335" width="3" height="23" fill="#0e5a1e"/>
<rect x="170" y="336" width="1" height="21" fill="#089981"/>
<rect x="174" y="311" width="1" height="29" fill="#089981"/>
<rect x="173" y="319" width="3" height="16" fill="#0e5a1e"/>
<rect x="174" y="320" width="1" height="14" fill="#089981"/>
<rect x="178" y="317" width="1" height="11" fill="#f23645"/>
<rect x="177" y="319" width="3" height="3" fill="#7c1420"/>
<rect x="178" y="320" width="1" height="1" fill="#f23645"/>
<rect x="181" y="316" width="1" height="13" fill="#f23645"/>
<rect x="180" y="321" width="3" height="1" fill="#7c1420"/>
<rect x="185" y="320" width="1" height="15" fill="#f23645"/>
<rect x="184" y="322" width="3" height="11" fill="#7c1420"/>
<rect x="185" y="323" width="1" height="9" fill="#f23645"/>
<rect x="189" y="327" width="1" height="9" fill="#f23645"/>
<rect x="188" y="332" width="3" height="3" fill="#7c1420"/>
<rect x="189" y="333" width="1" height="1" fill="#f23645"/>
<rect x="193" y="321" width="1" height="16" fill="#089981"/>
<rect x="192" y="321" width="3" height="14" fill="#0e5a1e"/>
<rect x="193" y="322" width="1" height="12" fill="#089981"/>
<rect x="197" y="318" width="1" height="10" fill="#f23645"/>
<rect x="196" y="321" width="3" height="2" fill="#7c1420"/>
<rect x="201" y="320" width="1" height="14" fill="#f23645"/>
<rect x="200" y="323" width="3" height="1" fill="#7c1420"/>
<rect x="205" y="321" width="1" height="8" fill="#f23645"/>
<rect x="204" y="324" width="3" height="4" fill="#7c1420"/>
<rect x="205" y="325" width="1" height="2" fill="#f23645"/>
<rect x="209" y="327" width="1" height="19" fill="#f23645"/>
<rect x="208" y="328" width="3" height="16" fill="#7c1420"/>
<rect x="209" y="329" width="1" height="14" fill="#f23645"/>
<rect x="212" y="335" width="1" height="9" fill="#089981"/>
<rect x="211" y="336" width="3" height="8" fill="#0e5a1e"/>
<rect x="212" y="337" width="1" height="6" fill="#089981"/>
<rect x="216" y="334" width="1" height="18" fill="#f23645"/>
<rect x="215" y="336" width="3" height="8" fill="#7c1420"/>
<rect x="216" y="337" width="1" height="6" fill="#f23645"/>
<rect x="220" y="328" width="1" height="19" fill="#089981"/>
<rect x="219" y="332" width="3" height="12" fill="#0e5a1e"/>
<rect x="220" y="333" width="1" height="10" fill="#089981"/>
<rect x="224" y="324" width="1" height="11" fill="#089981"/>
<rect x="223" y="330" width="3" height="3" fill="#0e5a1e"/>
<rect x="224" y="331" width="1" height="1" fill="#089981"/>
<rect x="228" y="326" width="1" height="7" fill="#089981"/>
<rect x="227" y="326" width="3" height="5" fill="#0e5a1e"/>
<rect x="228" y="327" width="1" height="3" fill="#089981"/>
<rect x="232" y="315" width="1" height="16" fill="#089981"/>
<rect x="231" y="315" width="3" height="11" fill="#0e5a1e"/>
<rect x="232" y="316" width="1" height="9" fill="#089981"/>
<rect x="236" y="315" width="1" height="23" fill="#f23645"/>
<rect x="235" y="315" width="3" height="22" fill="#7c1420"/>
<rect x="236" y="316" width="1" height="20" fill="#f23645"/>
<rect x="240" y="330" width="1" height="16" fill="#f23645"/>
<rect x="239" y="336" width="3" height="4" fill="#7c1420"/>
<rect x="240" y="337" width="1" height="2" fill="#f23645"/>
<rect x="243" y="335" width="1" height="26" fill="#f23645"/>
<rect x="242" y="340" width="3" height="18" fill="#7c1420"/>
<rect x="243" y="341" width="1" height="16" fill="#f23645"/>
<rect x="247" y="350" width="1" height="25" fill="#f23645"/>
<rect x="246" y="358" width="3" height="4" fill="#7c1420"/>
<rect x="247" y="359" width="1" height="2" fill="#f23645"/>
<rect x="251" y="337" width="1" height="37" fill="#f23645"/>
<rect x="250" y="362" width="3" height="8" fill="#7c1420"/>
<rect x="251" y="363" width="1" height="6" fill="#f23645"/>
<rect x="255" y="354" width="1" height="29" fill="#f23645"/>
<rect x="254" y="369" width="3" height="12" fill="#7c1420"/>
<rect x="255" y="370" width="1" height="10" fill="#f23645"/>
<rect x="259" y="358" width="1" height="34" fill="#089981"/>
<rect x="258" y="364" width="3" height="16" fill="#0e5a1e"/>
<rect x="259" y="365" width="1" height="14" fill="#089981"/>
<rect x="263" y="338" width="1" height="36" fill="#089981"/>
<rect x="262" y="354" width="3" height="11" fill="#0e5a1e"/>
<rect x="263" y="355" width="1" height="9" fill="#089981"/>
<rect x="267" y="337" width="1" height="19" fill="#089981"/>
<rect x="266" y="338" width="3" height="16" fill="#0e5a1e"/>
<rect x="267" y="339" width="1" height="14" fill="#089981"/>
<rect x="270" y="337" width="1" height="14" fill="#f23645"/>
<rect x="269" y="338" width="3" height="9" fill="#7c1420"/>
<rect x="270" y="339" width="1" height="7" fill="#f23645"/>
<rect x="274" y="330" width="1" height="21" fill="#089981"/>
<rect x="273" y="335" width="3" height="12" fill="#0e5a1e"/>
<rect x="274" y="336" width="1" height="10" fill="#089981"/>
<rect x="278" y="328" width="1" height="14" fill="#089981"/>
<rect x="277" y="335" width="3" height="1" fill="#0e5a1e"/>
<rect x="282" y="329" width="1" height="12" fill="#f23645"/>
<rect x="281" y="335" width="3" height="3" fill="#7c1420"/>
<rect x="282" y="336" width="1" height="1" fill="#f23645"/>
<rect x="286" y="336" width="1" height="42" fill="#f23645"/>
<rect x="285" y="337" width="3" height="33" fill="#7c1420"/>
<rect x="286" y="338" width="1" height="31" fill="#f23645"/>
<rect x="290" y="326" width="1" height="48" fill="#f23645"/>
<rect x="289" y="370" width="3" height="1" fill="#7c1420"/>
<rect x="294" y="361" width="1" height="37" fill="#f23645"/>
<rect x="293" y="371" width="3" height="25" fill="#7c1420"/>
<rect x="294" y="372" width="1" height="23" fill="#f23645"/>
<rect x="298" y="386" width="1" height="33" fill="#f23645"/>
<rect x="297" y="396" width="3" height="23" fill="#7c1420"/>
<rect x="298" y="397" width="1" height="21" fill="#f23645"/>
<rect x="301" y="406" width="1" height="20" fill="#089981"/>
<rect x="300" y="412" width="3" height="7" fill="#0e5a1e"/>
<rect x="301" y="413" width="1" height="5" fill="#089981"/>
<rect x="305" y="403" width="1" height="13" fill="#089981"/>
<rect x="304" y="407" width="3" height="6" fill="#0e5a1e"/>
<rect x="305" y="408" width="1" height="4" fill="#089981"/>
<rect x="309" y="404" width="1" height="24" fill="#f23645"/>
<rect x="308" y="407" width="3" height="11" fill="#7c1420"/>
<rect x="309" y="408" width="1" height="9" fill="#f23645"/>
<rect x="313" y="417" width="1" height="42" fill="#f23645"/>
<rect x="312" y="418" width="3" height="18" fill="#7c1420"/>
<rect x="313" y="419" width="1" height="16" fill="#f23645"/>
<rect x="317" y="435" width="1" height="33" fill="#f23645"/>
<rect x="316" y="436" width="3" height="14" fill="#7c1420"/>
<rect x="317" y="437" width="1" height="12" fill="#f23645"/>
<rect x="321" y="442" width="1" height="25" fill="#089981"/>
<rect x="320" y="443" width="3" height="7" fill="#0e5a1e"/>
<rect x="321" y="444" width="1" height="5" fill="#089981"/>
<rect x="325" y="422" width="1" height="22" fill="#089981"/>
<rect x="324" y="424" width="3" height="20" fill="#0e5a1e"/>
<rect x="325" y="425" width="1" height="18" fill="#089981"/>
<rect x="328" y="420" width="1" height="7" fill="#089981"/>
<rect x="327" y="422" width="3" height="3" fill="#0e5a1e"/>
<rect x="328" y="423" width="1" height="1" fill="#089981"/>
<rect x="332" y="414" width="1" height="20" fill="#f23645"/>
<rect x="331" y="422" width="3" height="1" fill="#7c1420"/>
<rect x="336" y="390" width="1" height="42" fill="#089981"/>
<rect x="335" y="393" width="3" height="30" fill="#0e5a1e"/>
<rect x="336" y="394" width="1" height="28" fill="#089981"/>
<rect x="340" y="373" width="1" height="26" fill="#089981"/>
<rect x="339" y="385" width="3" height="8" fill="#0e5a1e"/>
<rect x="340" y="386" width="1" height="6" fill="#089981"/>
<rect x="344" y="375" width="1" height="15" fill="#f23645"/>
<rect x="343" y="385" width="3" height="3" fill="#7c1420"/>
<rect x="344" y="386" width="1" height="1" fill="#f23645"/>
<rect x="348" y="384" width="1" height="17" fill="#f23645"/>
<rect x="347" y="387" width="3" height="14" fill="#7c1420"/>
<rect x="348" y="388" width="1" height="12" fill="#f23645"/>
<rect x="352" y="382" width="1" height="19" fill="#089981"/>
<rect x="351" y="391" width="3" height="10" fill="#0e5a1e"/>
<rect x="352" y="392" width="1" height="8" fill="#089981"/>
<rect x="356" y="391" width="1" height="22" fill="#f23645"/>
<rect x="355" y="391" width="3" height="11" fill="#7c1420"/>
<rect x="356" y="392" width="1" height="9" fill="#f23645"/>
<rect x="359" y="394" width="1" height="25" fill="#f23645"/>
<rect x="358" y="402" width="3" height="12" fill="#7c1420"/>
<rect x="359" y="403" width="1" height="10" fill="#f23645"/>
<rect x="363" y="412" width="1" height="41" fill="#f23645"/>
<rect x="362" y="414" width="3" height="31" fill="#7c1420"/>
<rect x="363" y="415" width="1" height="29" fill="#f23645"/>
<rect x="367" y="411" width="1" height="37" fill="#089981"/>
<rect x="366" y="415" width="3" height="30" fill="#0e5a1e"/>
<rect x="367" y="416" width="1" height="28" fill="#089981"/>
<rect x="371" y="413" width="1" height="18" fill="#f23645"/>
<rect x="370" y="415" width="3" height="7" fill="#7c1420"/>
<rect x="371" y="416" width="1" height="5" fill="#f23645"/>
<rect x="375" y="416" width="1" height="12" fill="#f23645"/>
<rect x="374" y="422" width="3" height="2" fill="#7c1420"/>
<rect x="379" y="414" width="1" height="14" fill="#f23645"/>
<rect x="378" y="424" width="3" height="1" fill="#7c1420"/>
<rect x="383" y="403" width="1" height="52" fill="#f23645"/>
<rect x="382" y="424" width="3" height="31" fill="#7c1420"/>
<rect x="383" y="425" width="1" height="29" fill="#f23645"/>
<rect x="387" y="449" width="1" height="28" fill="#f23645"/>
<rect x="386" y="455" width="3" height="9" fill="#7c1420"/>
<rect x="387" y="456" width="1" height="7" fill="#f23645"/>
<rect x="390" y="459" width="1" height="23" fill="#f23645"/>
<rect x="389" y="464" width="3" height="13" fill="#7c1420"/>
<rect x="390" y="465" width="1" height="11" fill="#f23645"/>
<rect x="394" y="436" width="1" height="46" fill="#089981"/>
<rect x="393" y="441" width="3" height="37" fill="#0e5a1e"/>
<rect x="394" y="442" width="1" height="35" fill="#089981"/>
<rect x="398" y="420" width="1" height="31" fill="#089981"/>
<rect x="397" y="421" width="3" height="21" fill="#0e5a1e"/>
<rect x="398" y="422" width="1" height="19" fill="#089981"/>
<rect x="402" y="396" width="1" height="33" fill="#089981"/>
<rect x="401" y="399" width="3" height="23" fill="#0e5a1e"/>
<rect x="402" y="400" width="1" height="21" fill="#089981"/>
<rect x="406" y="395" width="1" height="9" fill="#f23645"/>
<rect x="405" y="399" width="3" height="4" fill="#7c1420"/>
<rect x="406" y="400" width="1" height="2" fill="#f23645"/>
<rect x="410" y="387" width="1" height="21" fill="#089981"/>
<rect x="409" y="399" width="3" height="4" fill="#0e5a1e"/>
<rect x="410" y="400" width="1" height="2" fill="#089981"/>
<rect x="414" y="394" width="1" height="24" fill="#f23645"/>
<rect x="413" y="399" width="3" height="7" fill="#7c1420"/>
<rect x="414" y="400" width="1" height="5" fill="#f23645"/>
<rect x="417" y="403" width="1" height="19" fill="#f23645"/>
<rect x="416" y="405" width="3" height="9" fill="#7c1420"/>
<rect x="417" y="406" width="1" height="7" fill="#f23645"/>
<rect x="421" y="410" width="1" height="12" fill="#089981"/>
<rect x="420" y="413" width="3" height="1" fill="#0e5a1e"/>
<rect x="425" y="400" width="1" height="22" fill="#f23645"/>
<rect x="424" y="413" width="3" height="9" fill="#7c1420"/>
<rect x="425" y="414" width="1" height="7" fill="#f23645"/>
<rect x="429" y="418" width="1" height="40" fill="#f23645"/>
<rect x="428" y="422" width="3" height="35" fill="#7c1420"/>
<rect x="429" y="423" width="1" height="33" fill="#f23645"/>
<rect x="433" y="455" width="1" height="74" fill="#f23645"/>
<rect x="432" y="456" width="3" height="56" fill="#7c1420"/>
<rect x="433" y="457" width="1" height="54" fill="#f23645"/>
<rect x="437" y="500" width="1" height="35" fill="#f23645"/>
<rect x="436" y="511" width="3" height="7" fill="#7c1420"/>
<rect x="437" y="512" width="1" height="5" fill="#f23645"/>
<rect x="441" y="502" width="1" height="28" fill="#089981"/>
<rect x="440" y="510" width="3" height="8" fill="#0e5a1e"/>
<rect x="441" y="511" width="1" height="6" fill="#089981"/>
<rect x="445" y="482" width="1" height="43" fill="#f23645"/>
<rect x="444" y="510" width="3" height="15" fill="#7c1420"/>
<rect x="445" y="511" width="1" height="13" fill="#f23645"/>
<rect x="448" y="506" width="1" height="19" fill="#089981"/>
<rect x="447" y="515" width="3" height="10" fill="#0e5a1e"/>
<rect x="448" y="516" width="1" height="8" fill="#089981"/>
<rect x="452" y="514" width="1" height="36" fill="#f23645"/>
<rect x="451" y="515" width="3" height="27" fill="#7c1420"/>
<rect x="452" y="516" width="1" height="25" fill="#f23645"/>
<rect x="456" y="530" width="1" height="20" fill="#089981"/>
<rect x="455" y="533" width="3" height="9" fill="#0e5a1e"/>
<rect x="456" y="534" width="1" height="7" fill="#089981"/>
<rect x="460" y="532" width="1" height="101" fill="#f23645"/>
<rect x="459" y="533" width="3" height="45" fill="#7c1420"/>
<rect x="460" y="534" width="1" height="43" fill="#f23645"/>
<rect x="464" y="564" width="1" height="54" fill="#f23645"/>
<rect x="463" y="578" width="3" height="39" fill="#7c1420"/>
<rect x="464" y="579" width="1" height="37" fill="#f23645"/>
<rect x="468" y="592" width="1" height="36" fill="#089981"/>
<rect x="467" y="614" width="3" height="3" fill="#0e5a1e"/>
<rect x="468" y="615" width="1" height="1" fill="#089981"/>
<rect x="472" y="570" width="1" height="80" fill="#089981"/>
<rect x="471" y="576" width="3" height="38" fill="#0e5a1e"/>
<rect x="472" y="577" width="1" height="36" fill="#089981"/>
<rect x="476" y="547" width="1" height="58" fill="#f23645"/>
<rect x="475" y="576" width="3" height="26" fill="#7c1420"/>
<rect x="476" y="577" width="1" height="24" fill="#f23645"/>
<rect x="479" y="546" width="1" height="68" fill="#089981"/>
<rect x="478" y="560" width="3" height="42" fill="#0e5a1e"/>
<rect x="479" y="561" width="1" height="40" fill="#089981"/>
<rect x="483" y="556" width="1" height="37" fill="#f23645"/>
<rect x="482" y="560" width="3" height="14" fill="#7c1420"/>
<rect x="483" y="561" width="1" height="12" fill="#f23645"/>
<rect x="487" y="549" width="1" height="41" fill="#089981"/>
<rect x="486" y="554" width="3" height="20" fill="#0e5a1e"/>
<rect x="487" y="555" width="1" height="18" fill="#089981"/>
<rect x="491" y="549" width="1" height="27" fill="#f23645"/>
<rect x="490" y="554" width="3" height="2" fill="#7c1420"/>
<rect x="495" y="545" width="1" height="22" fill="#089981"/>
<rect x="494" y="554" width="3" height="2" fill="#0e5a1e"/>
<rect x="499" y="552" width="1" height="22" fill="#f23645"/>
<rect x="498" y="554" width="3" height="16" fill="#7c1420"/>
<rect x="499" y="555" width="1" height="14" fill="#f23645"/>
<rect x="503" y="567" width="1" height="15" fill="#f23645"/>
<rect x="502" y="570" width="3" height="4" fill="#7c1420"/>
<rect x="503" y="571" width="1" height="2" fill="#f23645"/>
<rect x="506" y="562" width="1" height="15" fill="#089981"/>
<rect x="505" y="567" width="3" height="7" fill="#0e5a1e"/>
<rect x="506" y="568" width="1" height="5" fill="#089981"/>
<rect x="510" y="566" width="1" height="16" fill="#f23645"/>
<rect x="509" y="567" width="3" height="14" fill="#7c1420"/>
<rect x="510" y="568" width="1" height="12" fill="#f23645"/>
<rect x="514" y="572" width="1" height="17" fill="#089981"/>
<rect x="513" y="577" width="3" height="4" fill="#0e5a1e"/>
<rect x="514" y="578" width="1" height="2" fill="#089981"/>
<rect x="518" y="575" width="1" height="12" fill="#f23645"/>
<rect x="517" y="577" width="3" height="4" fill="#7c1420"/>
<rect x="518" y="578" width="1" height="2" fill="#f23645"/>
<rect x="522" y="563" width="1" height="18" fill="#089981"/>
<rect x="521" y="573" width="3" height="7" fill="#0e5a1e"/>
<rect x="522" y="574" width="1" height="5" fill="#089981"/>
<rect x="526" y="559" width="1" height="15" fill="#089981"/>
<rect x="525" y="567" width="3" height="7" fill="#0e5a1e"/>
<rect x="526" y="568" width="1" height="5" fill="#089981"/>
<rect x="530" y="562" width="1" height="7" fill="#089981"/>
<rect x="529" y="566" width="3" height="2" fill="#0e5a1e"/>
<rect x="534" y="562" width="1" height="12" fill="#f23645"/>
<rect x="533" y="566" width="3" height="4" fill="#7c1420"/>
<rect x="534" y="567" width="1" height="2" fill="#f23645"/>
<rect x="537" y="552" width="1" height="21" fill="#089981"/>
<rect x="536" y="563" width="3" height="7" fill="#0e5a1e"/>
<rect x="537" y="564" width="1" height="5" fill="#089981"/>
<rect x="541" y="533" width="1" height="31" fill="#089981"/>
<rect x="540" y="540" width="3" height="24" fill="#0e5a1e"/>
<rect x="541" y="541" width="1" height="22" fill="#089981"/>
<rect x="545" y="530" width="1" height="14" fill="#089981"/>
<rect x="544" y="531" width="3" height="10" fill="#0e5a1e"/>
<rect x="545" y="532" width="1" height="8" fill="#089981"/>
<rect x="549" y="519" width="1" height="18" fill="#089981"/>
<rect x="548" y="529" width="3" height="2" fill="#0e5a1e"/>
<rect x="553" y="526" width="1" height="23" fill="#f23645"/>
<rect x="552" y="529" width="3" height="14" fill="#7c1420"/>
<rect x="553" y="530" width="1" height="12" fill="#f23645"/>
<rect x="557" y="527" width="1" height="16" fill="#089981"/>
<rect x="556" y="529" width="3" height="14" fill="#0e5a1e"/>
<rect x="557" y="530" width="1" height="12" fill="#089981"/>
<rect x="561" y="526" width="1" height="14" fill="#f23645"/>
<rect x="560" y="529" width="3" height="1" fill="#7c1420"/>
<rect x="564" y="517" width="1" height="14" fill="#089981"/>
<rect x="563" y="518" width="3" height="12" fill="#0e5a1e"/>
<rect x="564" y="519" width="1" height="10" fill="#089981"/>
<rect x="568" y="511" width="1" height="16" fill="#089981"/>
<rect x="567" y="514" width="3" height="4" fill="#0e5a1e"/>
<rect x="568" y="515" width="1" height="2" fill="#089981"/>
<rect x="572" y="505" width="1" height="21" fill="#f23645"/>
<rect x="571" y="514" width="3" height="8" fill="#7c1420"/>
<rect x="572" y="515" width="1" height="6" fill="#f23645"/>
<rect x="576" y="502" width="1" height="21" fill="#089981"/>
<rect x="575" y="509" width="3" height="13" fill="#0e5a1e"/>
<rect x="576" y="510" width="1" height="11" fill="#089981"/>
<rect x="580" y="495" width="1" height="18" fill="#089981"/>
<rect x="579" y="495" width="3" height="15" fill="#0e5a1e"/>
<rect x="580" y="496" width="1" height="13" fill="#089981"/>
<rect x="584" y="493" width="1" height="29" fill="#f23645"/>
<rect x="583" y="495" width="3" height="25" fill="#7c1420"/>
<rect x="584" y="496" width="1" height="23" fill="#f23645"/>
<rect x="588" y="512" width="1" height="26" fill="#089981"/>
<rect x="587" y="514" width="3" height="6" fill="#0e5a1e"/>
<rect x="588" y="515" width="1" height="4" fill="#089981"/>
<rect x="592" y="494" width="1" height="22" fill="#089981"/>
<rect x="591" y="507" width="3" height="8" fill="#0e5a1e"/>
<rect x="592" y="508" width="1" height="6" fill="#089981"/>
<rect x="595" y="499" width="1" height="29" fill="#089981"/>
<rect x="594" y="506" width="3" height="1" fill="#0e5a1e"/>
<rect x="599" y="505" width="1" height="18" fill="#f23645"/>
<rect x="598" y="506" width="3" height="10" fill="#7c1420"/>
<rect x="599" y="507" width="1" height="8" fill="#f23645"/>
<rect x="603" y="515" width="1" height="26" fill="#f23645"/>
<rect x="602" y="515" width="3" height="24" fill="#7c1420"/>
<rect x="603" y="516" width="1" height="22" fill="#f23645"/>
<rect x="607" y="528" width="1" height="15" fill="#089981"/>
<rect x="606" y="531" width="3" height="8" fill="#0e5a1e"/>
<rect x="607" y="532" width="1" height="6" fill="#089981"/>
<rect x="611" y="525" width="1" height="14" fill="#f23645"/>
<rect x="610" y="531" width="3" height="3" fill="#7c1420"/>
<rect x="611" y="532" width="1" height="1" fill="#f23645"/>
<rect x="615" y="521" width="1" height="31" fill="#089981"/>
<rect x="614" y="524" width="3" height="11" fill="#0e5a1e"/>
<rect x="615" y="525" width="1" height="9" fill="#089981"/>
<rect x="619" y="486" width="1" height="39" fill="#089981"/>
<rect x="618" y="487" width="3" height="37" fill="#0e5a1e"/>
<rect x="619" y="488" width="1" height="35" fill="#089981"/>
<rect x="623" y="478" width="1" height="15" fill="#f23645"/>
<rect x="622" y="487" width="3" height="1" fill="#7c1420"/>
<rect x="626" y="469" width="1" height="20" fill="#089981"/>
<rect x="625" y="480" width="3" height="8" fill="#0e5a1e"/>
<rect x="626" y="481" width="1" height="6" fill="#089981"/>
<rect x="630" y="472" width="1" height="18" fill="#f23645"/>
<rect x="629" y="480" width="3" height="9" fill="#7c1420"/>
<rect x="630" y="481" width="1" height="7" fill="#f23645"/>
<rect x="634" y="489" width="1" height="13" fill="#f23645"/>
<rect x="633" y="489" width="3" height="13" fill="#7c1420"/>
<rect x="634" y="490" width="1" height="11" fill="#f23645"/>
<rect x="638" y="494" width="1" height="13" fill="#089981"/>
<rect x="637" y="499" width="3" height="3" fill="#0e5a1e"/>
<rect x="638" y="500" width="1" height="1" fill="#089981"/>
<rect x="642" y="484" width="1" height="16" fill="#089981"/>
<rect x="641" y="493" width="3" height="7" fill="#0e5a1e"/>
<rect x="642" y="494" width="1" height="5" fill="#089981"/>
<rect x="646" y="492" width="1" height="17" fill="#f23645"/>
<rect x="645" y="493" width="3" height="15" fill="#7c1420"/>
<rect x="646" y="494" width="1" height="13" fill="#f23645"/>
<rect x="650" y="503" width="1" height="20" fill="#f23645"/>
<rect x="649" y="508" width="3" height="3" fill="#7c1420"/>
<rect x="650" y="509" width="1" height="1" fill="#f23645"/>
<rect x="653" y="505" width="1" height="12" fill="#089981"/>
<rect x="652" y="508" width="3" height="3" fill="#0e5a1e"/>
<rect x="653" y="509" width="1" height="1" fill="#089981"/>
<rect x="657" y="500" width="1" height="19" fill="#f23645"/>
<rect x="656" y="508" width="3" height="6" fill="#7c1420"/>
<rect x="657" y="509" width="1" height="4" fill="#f23645"/>
<rect x="661" y="509" width="1" height="26" fill="#f23645"/>
<rect x="660" y="514" width="3" height="2" fill="#7c1420"/>
<rect x="665" y="492" width="1" height="30" fill="#089981"/>
<rect x="664" y="503" width="3" height="13" fill="#0e5a1e"/>
<rect x="665" y="504" width="1" height="11" fill="#089981"/>
<rect x="669" y="499" width="1" height="34" fill="#f23645"/>
<rect x="668" y="503" width="3" height="16" fill="#7c1420"/>
<rect x="669" y="504" width="1" height="14" fill="#f23645"/>
<rect x="673" y="506" width="1" height="16" fill="#089981"/>
<rect x="672" y="515" width="3" height="4" fill="#0e5a1e"/>
<rect x="673" y="516" width="1" height="2" fill="#089981"/>
<rect x="677" y="497" width="1" height="28" fill="#089981"/>
<rect x="676" y="510" width="3" height="6" fill="#0e5a1e"/>
<rect x="677" y="511" width="1" height="4" fill="#089981"/>
<rect x="681" y="490" width="1" height="20" fill="#089981"/>
<rect x="680" y="497" width="3" height="13" fill="#0e5a1e"/>
<rect x="681" y="498" width="1" height="11" fill="#089981"/>
<rect x="684" y="493" width="1" height="22" fill="#f23645"/>
<rect x="683" y="497" width="3" height="17" fill="#7c1420"/>
<rect x="684" y="498" width="1" height="15" fill="#f23645"/>
<rect x="688" y="500" width="1" height="18" fill="#089981"/>
<rect x="687" y="506" width="3" height="8" fill="#0e5a1e"/>
<rect x="688" y="507" width="1" height="6" fill="#089981"/>
<rect x="692" y="496" width="1" height="11" fill="#089981"/>
<rect x="691" y="496" width="3" height="10" fill="#0e5a1e"/>
<rect x="692" y="497" width="1" height="8" fill="#089981"/>
<rect x="696" y="496" width="1" height="25" fill="#f23645"/>
<rect x="695" y="496" width="3" height="24" fill="#7c1420"/>
<rect x="696" y="497" width="1" height="22" fill="#f23645"/>
<rect x="700" y="514" width="1" height="9" fill="#089981"/>
<rect x="699" y="514" width="3" height="6" fill="#0e5a1e"/>
<rect x="700" y="515" width="1" height="4" fill="#089981"/>
<rect x="704" y="512" width="1" height="19" fill="#089981"/>
<rect x="703" y="514" width="3" height="1" fill="#0e5a1e"/>
<rect x="708" y="501" width="1" height="22" fill="#f23645"/>
<rect x="707" y="514" width="3" height="2" fill="#7c1420"/>
<rect x="712" y="454" width="1" height="63" fill="#089981"/>
<rect x="711" y="457" width="3" height="59" fill="#0e5a1e"/>
<rect x="712" y="458" width="1" height="57" fill="#089981"/>
<rect x="715" y="445" width="1" height="15" fill="#089981"/>
<rect x="714" y="454" width="3" height="4" fill="#0e5a1e"/>
<rect x="715" y="455" width="1" height="2" fill="#089981"/>
<rect x="719" y="443" width="1" height="20" fill="#089981"/>
<rect x="718" y="450" width="3" height="5" fill="#0e5a1e"/>
<rect x="719" y="451" width="1" height="3" fill="#089981"/>
<rect x="723" y="440" width="1" height="10" fill="#089981"/>
<rect x="722" y="443" width="3" height="7" fill="#0e5a1e"/>
<rect x="723" y="444" width="1" height="5" fill="#089981"/>
<rect x="727" y="427" width="1" height="23" fill="#089981"/>
<rect x="726" y="430" width="3" height="13" fill="#0e5a1e"/>
<rect x="727" y="431" width="1" height="11" fill="#089981"/>
<rect x="731" y="414" width="1" height="21" fill="#f23645"/>
<rect x="730" y="430" width="3" height="2" fill="#7c1420"/>
<rect x="735" y="421" width="1" height="14" fill="#f23645"/>
<rect x="734" y="432" width="3" height="2" fill="#7c1420"/>
<rect x="739" y="422" width="1" height="12" fill="#089981"/>
<rect x="738" y="424" width="3" height="10" fill="#0e5a1e"/>
<rect x="739" y="425" width="1" height="8" fill="#089981"/>
<rect x="742" y="412" width="1" height="15" fill="#089981"/>
<rect x="741" y="420" width="3" height="5" fill="#0e5a1e"/>
<rect x="742" y="421" width="1" height="3" fill="#089981"/>
<rect x="746" y="417" width="1" height="9" fill="#f23645"/>
<rect x="745" y="420" width="3" height="5" fill="#7c1420"/>
<rect x="746" y="421" width="1" height="3" fill="#f23645"/>
<rect x="750" y="423" width="1" height="21" fill="#f23645"/>
<rect x="749" y="425" width="3" height="11" fill="#7c1420"/>
<rect x="750" y="426" width="1" height="9" fill="#f23645"/>
<rect x="754" y="433" width="1" height="8" fill="#089981"/>
<rect x="753" y="434" width="3" height="2" fill="#0e5a1e"/>
<rect x="758" y="419" width="1" height="17" fill="#089981"/>
<rect x="757" y="422" width="3" height="12" fill="#0e5a1e"/>
<rect x="758" y="423" width="1" height="10" fill="#089981"/>
<rect x="762" y="415" width="1" height="10" fill="#089981"/>
<rect x="761" y="422" width="3" height="1" fill="#0e5a1e"/>
<rect x="766" y="420" width="1" height="8" fill="#f23645"/>
<rect x="765" y="422" width="3" height="3" fill="#7c1420"/>
<rect x="766" y="423" width="1" height="1" fill="#f23645"/>
<rect x="770" y="420" width="1" height="10" fill="#f23645"/>
<rect x="769" y="424" width="3" height="3" fill="#7c1420"/>
<rect x="770" y="425" width="1" height="1" fill="#f23645"/>
<rect x="773" y="426" width="1" height="12" fill="#f23645"/>
<rect x="772" y="426" width="3" height="12" fill="#7c1420"/>
<rect x="773" y="427" width="1" height="10" fill="#f23645"/>
<rect x="777" y="426" width="1" height="14" fill="#089981"/>
<rect x="776" y="428" width="3" height="10" fill="#0e5a1e"/>
<rect x="777" y="429" width="1" height="8" fill="#089981"/>
<rect x="781" y="417" width="1" height="13" fill="#089981"/>
<rect x="780" y="420" width="3" height="9" fill="#0e5a1e"/>
<rect x="781" y="421" width="1" height="7" fill="#089981"/>
<rect x="785" y="420" width="1" height="15" fill="#f23645"/>
<rect x="784" y="420" width="3" height="15" fill="#7c1420"/>
<rect x="785" y="421" width="1" height="13" fill="#f23645"/>
<rect x="789" y="415" width="1" height="20" fill="#089981"/>
<rect x="788" y="420" width="3" height="15" fill="#0e5a1e"/>
<rect x="789" y="421" width="1" height="13" fill="#089981"/>
<rect x="793" y="411" width="1" height="21" fill="#f23645"/>
<rect x="792" y="420" width="3" height="4" fill="#7c1420"/>
<rect x="793" y="421" width="1" height="2" fill="#f23645"/>
<rect x="797" y="398" width="1" height="27" fill="#089981"/>
<rect x="796" y="404" width="3" height="20" fill="#0e5a1e"/>
<rect x="797" y="405" width="1" height="18" fill="#089981"/>
<rect x="801" y="389" width="1" height="26" fill="#f23645"/>
<rect x="800" y="404" width="3" height="1" fill="#7c1420"/>
<rect x="804" y="404" width="1" height="45" fill="#f23645"/>
<rect x="803" y="404" width="3" height="37" fill="#7c1420"/>
<rect x="804" y="405" width="1" height="35" fill="#f23645"/>
<rect x="808" y="427" width="1" height="18" fill="#089981"/>
<rect x="807" y="429" width="3" height="12" fill="#0e5a1e"/>
<rect x="808" y="430" width="1" height="10" fill="#089981"/>
<rect x="812" y="427" width="1" height="9" fill="#f23645"/>
<rect x="811" y="429" width="3" height="7" fill="#7c1420"/>
<rect x="812" y="430" width="1" height="5" fill="#f23645"/>
<rect x="816" y="428" width="1" height="11" fill="#089981"/>
<rect x="815" y="435" width="3" height="1" fill="#0e5a1e"/>
<rect x="820" y="430" width="1" height="7" fill="#f23645"/>
<rect x="819" y="435" width="3" height="1" fill="#7c1420"/>
<rect x="824" y="434" width="1" height="8" fill="#f23645"/>
<rect x="823" y="435" width="3" height="5" fill="#7c1420"/>
<rect x="824" y="436" width="1" height="3" fill="#f23645"/>
<rect x="828" y="434" width="1" height="8" fill="#089981"/>
<rect x="827" y="438" width="3" height="2" fill="#0e5a1e"/>
<rect x="831" y="436" width="1" height="11" fill="#f23645"/>
<rect x="830" y="438" width="3" height="5" fill="#7c1420"/>
<rect x="831" y="439" width="1" height="3" fill="#f23645"/>
<rect x="835" y="438" width="1" height="5" fill="#089981"/>
<rect x="834" y="442" width="3" height="1" fill="#0e5a1e"/>
<rect x="839" y="438" width="1" height="8" fill="#089981"/>
<rect x="838" y="439" width="3" height="4" fill="#0e5a1e"/>
<rect x="839" y="440" width="1" height="2" fill="#089981"/>
<rect x="843" y="436" width="1" height="6" fill="#089981"/>
<rect x="842" y="438" width="3" height="2" fill="#0e5a1e"/>
<rect x="847" y="429" width="1" height="11" fill="#089981"/>
<rect x="846" y="431" width="3" height="7" fill="#0e5a1e"/>
<rect x="847" y="432" width="1" height="5" fill="#089981"/>
<rect x="851" y="428" width="1" height="17" fill="#f23645"/>
<rect x="850" y="431" width="3" height="14" fill="#7c1420"/>
<rect x="851" y="432" width="1" height="12" fill="#f23645"/>
<rect x="855" y="435" width="1" height="15" fill="#089981"/>
<rect x="854" y="440" width="3" height="5" fill="#0e5a1e"/>
<rect x="855" y="441" width="1" height="3" fill="#089981"/>
<rect x="859" y="431" width="1" height="14" fill="#089981"/>
<rect x="858" y="432" width="3" height="8" fill="#0e5a1e"/>
<rect x="859" y="433" width="1" height="6" fill="#089981"/>
<rect x="862" y="431" width="1" height="7" fill="#f23645"/>
<rect x="861" y="432" width="3" height="5" fill="#7c1420"/>
<rect x="862" y="433" width="1" height="3" fill="#f23645"/>
<rect x="866" y="431" width="1" height="6" fill="#089981"/>
<rect x="865" y="434" width="3" height="3" fill="#0e5a1e"/>
<rect x="866" y="435" width="1" height="1" fill="#089981"/>
<rect x="870" y="432" width="1" height="12" fill="#089981"/>
<rect x="869" y="434" width="3" height="1" fill="#0e5a1e"/>
<rect x="874" y="433" width="1" height="6" fill="#f23645"/>
<rect x="873" y="434" width="3" height="4" fill="#7c1420"/>
<rect x="874" y="435" width="1" height="2" fill="#f23645"/>
<rect x="878" y="431" width="1" height="7" fill="#089981"/>
<rect x="877" y="432" width="3" height="6" fill="#0e5a1e"/>
<rect x="878" y="433" width="1" height="4" fill="#089981"/>
<rect x="882" y="419" width="1" height="15" fill="#089981"/>
<rect x="881" y="424" width="3" height="9" fill="#0e5a1e"/>
<rect x="882" y="425" width="1" height="7" fill="#089981"/>
<rect x="886" y="423" width="1" height="9" fill="#f23645"/>
<rect x="885" y="424" width="3" height="7" fill="#7c1420"/>
<rect x="886" y="425" width="1" height="5" fill="#f23645"/>
<rect x="889" y="412" width="1" height="20" fill="#089981"/>
<rect x="888" y="416" width="3" height="15" fill="#0e5a1e"/>
<rect x="889" y="417" width="1" height="13" fill="#089981"/>
<rect x="893" y="416" width="1" height="11" fill="#f23645"/>
<rect x="892" y="416" width="3" height="7" fill="#7c1420"/>
<rect x="893" y="417" width="1" height="5" fill="#f23645"/>
<rect x="897" y="415" width="1" height="11" fill="#089981"/>
<rect x="896" y="422" width="3" height="1" fill="#0e5a1e"/>
<rect x="901" y="421" width="1" height="8" fill="#f23645"/>
<rect x="900" y="422" width="3" height="1" fill="#7c1420"/>
<rect x="905" y="419" width="1" height="12" fill="#f23645"/>
<rect x="904" y="423" width="3" height="7" fill="#7c1420"/>
<rect x="905" y="424" width="1" height="5" fill="#f23645"/>
<rect x="909" y="426" width="1" height="20" fill="#f23645"/>
<rect x="908" y="429" width="3" height="17" fill="#7c1420"/>
<rect x="909" y="430" width="1" height="15" fill="#f23645"/>
<rect x="913" y="445" width="1" height="71" fill="#f23645"/>
<rect x="912" y="446" width="3" height="68" fill="#7c1420"/>
<rect x="913" y="447" width="1" height="66" fill="#f23645"/>
<rect x="917" y="506" width="1" height="25" fill="#f23645"/>
<rect x="916" y="513" width="3" height="17" fill="#7c1420"/>
<rect x="917" y="514" width="1" height="15" fill="#f23645"/>
<rect x="920" y="529" width="1" height="16" fill="#f23645"/>
<rect x="919" y="530" width="3" height="7" fill="#7c1420"/>
<rect x="920" y="531" width="1" height="5" fill="#f23645"/>
<rect x="924" y="525" width="1" height="13" fill="#089981"/>
<rect x="923" y="526" width="3" height="11" fill="#0e5a1e"/>
<rect x="924" y="527" width="1" height="9" fill="#089981"/>
<rect x="928" y="517" width="1" height="11" fill="#089981"/>
<rect x="927" y="522" width="3" height="4" fill="#0e5a1e"/>
<rect x="928" y="523" width="1" height="2" fill="#089981"/>
<rect x="932" y="520" width="1" height="15" fill="#f23645"/>
<rect x="931" y="522" width="3" height="12" fill="#7c1420"/>
<rect x="932" y="523" width="1" height="10" fill="#f23645"/>
<rect x="936" y="531" width="1" height="32" fill="#f23645"/>
<rect x="935" y="534" width="3" height="3" fill="#7c1420"/>
<rect x="936" y="535" width="1" height="1" fill="#f23645"/>
<rect x="940" y="523" width="1" height="59" fill="#f23645"/>
<rect x="939" y="537" width="3" height="28" fill="#7c1420"/>
<rect x="940" y="538" width="1" height="26" fill="#f23645"/>
<rect x="944" y="548" width="1" height="29" fill="#089981"/>
<rect x="943" y="560" width="3" height="5" fill="#0e5a1e"/>
<rect x="944" y="561" width="1" height="3" fill="#089981"/>
<rect x="948" y="546" width="1" height="20" fill="#089981"/>
<rect x="947" y="557" width="3" height="3" fill="#0e5a1e"/>
<rect x="948" y="558" width="1" height="1" fill="#089981"/>
<rect x="951" y="528" width="1" height="30" fill="#089981"/>
<rect x="950" y="528" width="3" height="29" fill="#0e5a1e"/>
<rect x="951" y="529" width="1" height="27" fill="#089981"/>
<rect x="955" y="519" width="1" height="13" fill="#f23645"/>
<rect x="954" y="528" width="3" height="3" fill="#7c1420"/>
<rect x="955" y="529" width="1" height="1" fill="#f23645"/>
<rect x="959" y="509" width="1" height="23" fill="#089981"/>
<rect x="958" y="528" width="3" height="3" fill="#0e5a1e"/>
<rect x="959" y="529" width="1" height="1" fill="#089981"/>
<rect x="963" y="514" width="1" height="15" fill="#089981"/>
<rect x="962" y="517" width="3" height="11" fill="#0e5a1e"/>
<rect x="963" y="518" width="1" height="9" fill="#089981"/>
<rect x="967" y="510" width="1" height="10" fill="#089981"/>
<rect x="966" y="516" width="3" height="1" fill="#0e5a1e"/>
<rect x="971" y="512" width="1" height="7" fill="#f23645"/>
<rect x="970" y="516" width="3" height="1" fill="#7c1420"/>
<rect x="975" y="514" width="1" height="16" fill="#f23645"/>
<rect x="974" y="516" width="3" height="6" fill="#7c1420"/>
<rect x="975" y="517" width="1" height="4" fill="#f23645"/>
<rect x="978" y="507" width="1" height="15" fill="#089981"/>
<rect x="977" y="508" width="3" height="14" fill="#0e5a1e"/>
<rect x="978" y="509" width="1" height="12" fill="#089981"/>
<rect x="982" y="496" width="1" height="19" fill="#089981"/>
<rect x="981" y="502" width="3" height="7" fill="#0e5a1e"/>
<rect x="982" y="503" width="1" height="5" fill="#089981"/>
<rect x="986" y="428" width="1" height="75" fill="#089981"/>
<rect x="985" y="436" width="3" height="66" fill="#0e5a1e"/>
<rect x="986" y="437" width="1" height="64" fill="#089981"/>
<rect x="990" y="412" width="1" height="37" fill="#089981"/>
<rect x="989" y="423" width="3" height="13" fill="#0e5a1e"/>
<rect x="990" y="424" width="1" height="11" fill="#089981"/>
<rect x="994" y="405" width="1" height="20" fill="#089981"/>
<rect x="993" y="414" width="3" height="10" fill="#0e5a1e"/>
<rect x="994" y="415" width="1" height="8" fill="#089981"/>
<rect x="998" y="413" width="1" height="25" fill="#f23645"/>
<rect x="997" y="414" width="3" height="8" fill="#7c1420"/>
<rect x="998" y="415" width="1" height="6" fill="#f23645"/>
<rect x="1002" y="413" width="1" height="9" fill="#089981"/>
<rect x="1001" y="419" width="3" height="3" fill="#0e5a1e"/>
<rect x="1002" y="420" width="1" height="1" fill="#089981"/>
<rect x="7" y="419" width="1" height="1" fill="#f23645"/>
<rect x="10" y="419" width="1" height="1" fill="#f23645"/>
<rect x="13" y="419" width="1" height="1" fill="#f23645"/>
<rect x="16" y="419" width="1" height="1" fill="#f23645"/>
<rect x="19" y="419" width="1" height="1" fill="#f23645"/>
<rect x="22" y="419" width="1" height="1" fill="#f23645"/>
<rect x="25" y="419" width="1" height="1" fill="#f23645"/>
<rect x="28" y="419" width="1" height="1" fill="#f23645"/>
<rect x="31" y="419" width="1" height="1" fill="#f23645"/>
<rect x="34" y="419" width="1" height="1" fill="#f23645"/>
<rect x="37" y="419" width="1" height="1" fill="#f23645"/>
<rect x="40" y="419" width="1" height="1" fill="#f23645"/>
<rect x="43" y="419" width="1" height="1" fill="#f23645"/>
<rect x="46" y="419" width="1" height="1" fill="#f23645"/>
<rect x="49" y="419" width="1" height="1" fill="#f23645"/>
<rect x="52" y="419" width="1" height="1" fill="#f23645"/>
<rect x="55" y="419" width="1" height="1" fill="#f23645"/>
<rect x="58" y="419" width="1" height="1" fill="#f23645"/>
<rect x="61" y="419" width="1" height="1" fill="#f23645"/>
<rect x="64" y="419" width="1" height="1" fill="#f23645"/>
<rect x="67" y="419" width="1" height="1" fill="#f23645"/>
<rect x="70" y="419" width="1" height="1" fill="#f23645"/>
<rect x="73" y="419" width="1" height="1" fill="#f23645"/>
<rect x="76" y="419" width="1" height="1" fill="#f23645"/>
<rect x="79" y="419" width="1" height="1" fill="#f23645"/>
<rect x="82" y="419" width="1" height="1" fill="#f23645"/>
<rect x="85" y="419" width="1" height="1" fill="#f23645"/>
<rect x="88" y="419" width="1" height="1" fill="#f23645"/>
<rect x="91" y="419" width="1" height="1" fill="#f23645"/>
<rect x="94" y="419" width="1" height="1" fill="#f23645"/>
<rect x="97" y="419" width="1" height="1" fill="#f23645"/>
<rect x="100" y="419" width="1" height="1" fill="#f23645"/>
<rect x="103" y="419" width="1" height="1" fill="#f23645"/>
<rect x="106" y="419" width="1" height="1" fill="#f23645"/>
<rect x="109" y="419" width="1" height="1" fill="#f23645"/>
<rect x="112" y="419" width="1" height="1" fill="#f23645"/>
<rect x="115" y="419" width="1" height="1" fill="#f23645"/>
<rect x="118" y="419" width="1" height="1" fill="#f23645"/>
<rect x="121" y="419" width="1" height="1" fill="#f23645"/>
<rect x="124" y="419" width="1" height="1" fill="#f23645"/>
<rect x="127" y="419" width="1" height="1" fill="#f23645"/>
<rect x="130" y="419" width="1" height="1" fill="#f23645"/>
<rect x="133" y="419" width="1" height="1" fill="#f23645"/>
<rect x="136" y="419" width="1" height="1" fill="#f23645"/>
<rect x="139" y="419" width="1" height="1" fill="#f23645"/>
<rect x="142" y="419" width="1" height="1" fill="#f23645"/>
<rect x="145" y="419" width="1" height="1" fill="#f23645"/>
<rect x="148" y="419" width="1" height="1" fill="#f23645"/>
<rect x="151" y="419" width="1" height="1" fill="#f23645"/>
<rect x="154" y="419" width="1" height="1" fill="#f23645"/>
<rect x="157" y="419" width="1" height="1" fill="#f23645"/>
<rect x="160" y="419" width="1" height="1" fill="#f23645"/>
<rect x="163" y="419" width="1" height="1" fill="#f23645"/>
<rect x="166" y="419" width="1" height="1" fill="#f23645"/>
<rect x="169" y="419" width="1" height="1" fill="#f23645"/>
<rect x="172" y="419" width="1" height="1" fill="#f23645"/>
<rect x="175" y="419" width="1" height="1" fill="#f23645"/>
<rect x="178" y="419" width="1" height="1" fill="#f23645"/>
<rect x="181" y="419" width="1" height="1" fill="#f23645"/>
<rect x="184" y="419" width="1" height="1" fill="#f23645"/>
<rect x="187" y="419" width="1" height="1" fill="#f23645"/>
<rect x="190" y="419" width="1" height="1" fill="#f23645"/>
<rect x="193" y="419" width="1" height="1" fill="#f23645"/>
<rect x="196" y="419" width="1" height="1" fill="#f23645"/>
<rect x="199" y="419" width="1" height="1" fill="#f23645"/>
<rect x="202" y="419" width="1" height="1" fill="#f23645"/>
<rect x="205" y="419" width="1" height="1" fill="#f23645"/>
<rect x="208" y="419" width="1" height="1" fill="#f23645"/>
<rect x="211" y="419" width="1" height="1" fill="#f23645"/>
<rect x="214" y="419" width="1" height="1" fill="#f23645"/>
<rect x="217" y="419" width="1" height="1" fill="#f23645"/>
<rect x="220" y="419" width="1" height="1" fill="#f23645"/>
<rect x="223" y="419" width="1" height="1" fill="#f23645"/>
<rect x="226" y="419" width="1" height="1" fill="#f23645"/>
<rect x="229" y="419" width="1" height="1" fill="#f23645"/>
<rect x="232" y="419" width="1" height="1" fill="#f23645"/>
<rect x="235" y="419" width="1" height="1" fill="#f23645"/>
<rect x="238" y="419" width="1" height="1" fill="#f23645"/>
<rect x="241" y="419" width="1" height="1" fill="#f23645"/>
<rect x="244" y="419" width="1" height="1" fill="#f23645"/>
<rect x="247" y="419" width="1" height="1" fill="#f23645"/>
<rect x="250" y="419" width="1" height="1" fill="#f23645"/>
<rect x="253" y="419" width="1" height="1" fill="#f23645"/>
<rect x="256" y="419" width="1" height="1" fill="#f23645"/>
<rect x="259" y="419" width="1" height="1" fill="#f23645"/>
<rect x="262" y="419" width="1" height="1" fill="#f23645"/>
<rect x="265" y="419" width="1" height="1" fill="#f23645"/>
<rect x="268" y="419" width="1" height="1" fill="#f23645"/>
<rect x="271" y="419" width="1" height="1" fill="#f23645"/>
<rect x="274" y="419" width="1" height="1" fill="#f23645"/>
<rect x="277" y="419" width="1" height="1" fill="#f23645"/>
<rect x="280" y="419" width="1" height="1" fill="#f23645"/>
<rect x="283" y="419" width="1" height="1" fill="#f23645"/>
<rect x="286" y="419" width="1" height="1" fill="#f23645"/>
<rect x="289" y="419" width="1" height="1" fill="#f23645"/>
<rect x="292" y="419" width="1" height="1" fill="#f23645"/>
<rect x="295" y="419" width="1" height="1" fill="#f23645"/>
<rect x="298" y="419" width="1" height="1" fill="#f23645"/>
<rect x="301" y="419" width="1" height="1" fill="#f23645"/>
<rect x="304" y="419" width="1" height="1" fill="#f23645"/>
<rect x="307" y="419" width="1" height="1" fill="#f23645"/>
<rect x="310" y="419" width="1" height="1" fill="#f23645"/>
<rect x="313" y="419" width="1" height="1" fill="#f23645"/>
<rect x="316" y="419" width="1" height="1" fill="#f23645"/>
<rect x="319" y="419" width="1" height="1" fill="#f23645"/>
<rect x="322" y="419" width="1" height="1" fill="#f23645"/>
<rect x="325" y="419" width="1" height="1" fill="#f23645"/>
<rect x="328" y="419" width="1" height="1" fill="#f23645"/>
<rect x="331" y="419" width="1" height="1" fill="#f23645"/>
<rect x="334" y="419" width="1" height="1" fill="#f23645"/>
<rect x="337" y="419" width="1" height="1" fill="#f23645"/>
<rect x="340" y="419" width="1" height="1" fill="#f23645"/>
<rect x="343" y="419" width="1" height="1" fill="#f23645"/>
<rect x="346" y="419" width="1" height="1" fill="#f23645"/>
<rect x="349" y="419" width="1" height="1" fill="#f23645"/>
<rect x="352" y="419" width="1" height="1" fill="#f23645"/>
<rect x="355" y="419" width="1" height="1" fill="#f23645"/>
<rect x="358" y="419" width="1" height="1" fill="#f23645"/>
<rect x="361" y="419" width="1" height="1" fill="#f23645"/>
<rect x="364" y="419" width="1" height="1" fill="#f23645"/>
<rect x="367" y="419" width="1" height="1" fill="#f23645"/>
<rect x="370" y="419" width="1" height="1" fill="#f23645"/>
<rect x="373" y="419" width="1" height="1" fill="#f23645"/>
<rect x="376" y="419" width="1" height="1" fill="#f23645"/>
<rect x="379" y="419" width="1" height="1" fill="#f23645"/>
<rect x="382" y="419" width="1" height="1" fill="#f23645"/>
<rect x="385" y="419" width="1" height="1" fill="#f23645"/>
<rect x="388" y="419" width="1" height="1" fill="#f23645"/>
<rect x="391" y="419" width="1" height="1" fill="#f23645"/>
<rect x="394" y="419" width="1" height="1" fill="#f23645"/>
<rect x="397" y="419" width="1" height="1" fill="#f23645"/>
<rect x="400" y="419" width="1" height="1" fill="#f23645"/>
<rect x="403" y="419" width="1" height="1" fill="#f23645"/>
<rect x="406" y="419" width="1" height="1" fill="#f23645"/>
<rect x="409" y="419" width="1" height="1" fill="#f23645"/>
<rect x="412" y="419" width="1" height="1" fill="#f23645"/>
<rect x="415" y="419" width="1" height="1" fill="#f23645"/>
<rect x="418" y="419" width="1" height="1" fill="#f23645"/>
<rect x="421" y="419" width="1" height="1" fill="#f23645"/>
<rect x="424" y="419" width="1" height="1" fill="#f23645"/>
<rect x="427" y="419" width="1" height="1" fill="#f23645"/>
<rect x="430" y="419" width="1" height="1" fill="#f23645"/>
<rect x="433" y="419" width="1" height="1" fill="#f23645"/>
<rect x="436" y="419" width="1" height="1" fill="#f23645"/>
<rect x="439" y="419" width="1" height="1" fill="#f23645"/>
<rect x="442" y="419" width="1" height="1" fill="#f23645"/>
<rect x="445" y="419" width="1" height="1" fill="#f23645"/>
<rect x="448" y="419" width="1" height="1" fill="#f23645"/>
<rect x="451" y="419" width="1" height="1" fill="#f23645"/>
<rect x="454" y="419" width="1" height="1" fill="#f23645"/>
<rect x="457" y="419" width="1" height="1" fill="#f23645"/>
<rect x="460" y="419" width="1" height="1" fill="#f23645"/>
<rect x="463" y="419" width="1" height="1" fill="#f23645"/>
<rect x="466" y="419" width="1" height="1" fill="#f23645"/>
<rect x="469" y="419" width="1" height="1" fill="#f23645"/>
<rect x="472" y="419" width="1" height="1" fill="#f23645"/>
<rect x="475" y="419" width="1" height="1" fill="#f23645"/>
<rect x="478" y="419" width="1" height="1" fill="#f23645"/>
<rect x="481" y="419" width="1" height="1" fill="#f23645"/>
<rect x="484" y="419" width="1" height="1" fill="#f23645"/>
<rect x="487" y="419" width="1" height="1" fill="#f23645"/>
<rect x="490" y="419" width="1" height="1" fill="#f23645"/>
<rect x="493" y="419" width="1" height="1" fill="#f23645"/>
<rect x="496" y="419" width="1" height="1" fill="#f23645"/>
<rect x="499" y="419" width="1" height="1" fill="#f23645"/>
<rect x="502" y="419" width="1" height="1" fill="#f23645"/>
<rect x="505" y="419" width="1" height="1" fill="#f23645"/>
<rect x="508" y="419" width="1" height="1" fill="#f23645"/>
<rect x="511" y="419" width="1" height="1" fill="#f23645"/>
<rect x="514" y="419" width="1" height="1" fill="#f23645"/>
<rect x="517" y="419" width="1" height="1" fill="#f23645"/>
<rect x="520" y="419" width="1" height="1" fill="#f23645"/>
<rect x="523" y="419" width="1" height="1" fill="#f23645"/>
<rect x="526" y="419" width="1" height="1" fill="#f23645"/>
<rect x="529" y="419" width="1" height="1" fill="#f23645"/>
<rect x="532" y="419" width="1" height="1" fill="#f23645"/>
<rect x="535" y="419" width="1" height="1" fill="#f23645"/>
<rect x="538" y="419" width="1" height="1" fill="#f23645"/>
<rect x="541" y="419" width="1" height="1" fill="#f23645"/>
<rect x="544" y="419" width="1" height="1" fill="#f23645"/>
<rect x="547" y="419" width="1" height="1" fill="#f23645"/>
<rect x="550" y="419" width="1" height="1" fill="#f23645"/>
<rect x="553" y="419" width="1" height="1" fill="#f23645"/>
<rect x="556" y="419" width="1" height="1" fill="#f23645"/>
<rect x="559" y="419" width="1" height="1" fill="#f23645"/>
<rect x="562" y="419" width="1" height="1" fill="#f23645"/>
<rect x="565" y="419" width="1" height="1" fill="#f23645"/>
<rect x="568" y="419" width="1" height="1" fill="#f23645"/>
<rect x="571" y="419" width="1" height="1" fill="#f23645"/>
<rect x="574" y="419" width="1" height="1" fill="#f23645"/>
<rect x="577" y="419" width="1" height="1" fill="#f23645"/>
<rect x="580" y="419" width="1" height="1" fill="#f23645"/>
<rect x="583" y="419" width="1" height="1" fill="#f23645"/>
<rect x="586" y="419" width="1" height="1" fill="#f23645"/>
<rect x="589" y="419" width="1" height="1" fill="#f23645"/>
<rect x="592" y="419" width="1" height="1" fill="#f23645"/>
<rect x="595" y="419" width="1" height="1" fill="#f23645"/>
<rect x="598" y="419" width="1" height="1" fill="#f23645"/>
<rect x="601" y="419" width="1" height="1" fill="#f23645"/>
<rect x="604" y="419" width="1" height="1" fill="#f23645"/>
<rect x="607" y="419" width="1" height="1" fill="#f23645"/>
<rect x="610" y="419" width="1" height="1" fill="#f23645"/>
<rect x="613" y="419" width="1" height="1" fill="#f23645"/>
<rect x="616" y="419" width="1" height="1" fill="#f23645"/>
<rect x="619" y="419" width="1" height="1" fill="#f23645"/>
<rect x="622" y="419" width="1" height="1" fill="#f23645"/>
<rect x="625" y="419" width="1" height="1" fill="#f23645"/>
<rect x="628" y="419" width="1" height="1" fill="#f23645"/>
<rect x="631" y="419" width="1" height="1" fill="#f23645"/>
<rect x="634" y="419" width="1" height="1" fill="#f23645"/>
<rect x="637" y="419" width="1" height="1" fill="#f23645"/>
<rect x="640" y="419" width="1" height="1" fill="#f23645"/>
<rect x="643" y="419" width="1" height="1" fill="#f23645"/>
<rect x="646" y="419" width="1" height="1" fill="#f23645"/>
<rect x="649" y="419" width="1" height="1" fill="#f23645"/>
<rect x="652" y="419" width="1" height="1" fill="#f23645"/>
<rect x="655" y="419" width="1" height="1" fill="#f23645"/>
<rect x="658" y="419" width="1" height="1" fill="#f23645"/>
<rect x="661" y="419" width="1" height="1" fill="#f23645"/>
<rect x="664" y="419" width="1" height="1" fill="#f23645"/>
<rect x="667" y="419" width="1" height="1" fill="#f23645"/>
<rect x="670" y="419" width="1" height="1" fill="#f23645"/>
<rect x="673" y="419" width="1" height="1" fill="#f23645"/>
<rect x="676" y="419" width="1" height="1" fill="#f23645"/>
<rect x="679" y="419" width="1" height="1" fill="#f23645"/>
<rect x="682" y="419" width="1" height="1" fill="#f23645"/>
<rect x="685" y="419" width="1" height="1" fill="#f23645"/>
<rect x="688" y="419" width="1" height="1" fill="#f23645"/>
<rect x="691" y="419" width="1" height="1" fill="#f23645"/>
<rect x="694" y="419" width="1" height="1" fill="#f23645"/>
<rect x="697" y="419" width="1" height="1" fill="#f23645"/>
<rect x="700" y="419" width="1" height="1" fill="#f23645"/>
<rect x="703" y="419" width="1" height="1" fill="#f23645"/>
<rect x="706" y="419" width="1" height="1" fill="#f23645"/>
<rect x="709" y="419" width="1" height="1" fill="#f23645"/>
<rect x="712" y="419" width="1" height="1" fill="#f23645"/>
<rect x="715" y="419" width="1" height="1" fill="#f23645"/>
<rect x="718" y="419" width="1" height="1" fill="#f23645"/>
<rect x="721" y="419" width="1" height="1" fill="#f23645"/>
<rect x="724" y="419" width="1" height="1" fill="#f23645"/>
<rect x="727" y="419" width="1" height="1" fill="#f23645"/>
<rect x="730" y="419" width="1" height="1" fill="#f23645"/>
<rect x="733" y="419" width="1" height="1" fill="#f23645"/>
<rect x="736" y="419" width="1" height="1" fill="#f23645"/>
<rect x="739" y="419" width="1" height="1" fill="#f23645"/>
<rect x="742" y="419" width="1" height="1" fill="#f23645"/>
<rect x="745" y="419" width="1" height="1" fill="#f23645"/>
<rect x="748" y="419" width="1" height="1" fill="#f23645"/>
<rect x="751" y="419" width="1" height="1" fill="#f23645"/>
<rect x="754" y="419" width="1" height="1" fill="#f23645"/>
<rect x="757" y="419" width="1" height="1" fill="#f23645"/>
<rect x="760" y="419" width="1" height="1" fill="#f23645"/>
<rect x="763" y="419" width="1" height="1" fill="#f23645"/>
<rect x="766" y="419" width="1" height="1" fill="#f23645"/>
<rect x="769" y="419" width="1" height="1" fill="#f23645"/>
<rect x="772" y="419" width="1" height="1" fill="#f23645"/>
<rect x="775" y="419" width="1" height="1" fill="#f23645"/>
<rect x="778" y="419" width="1" height="1" fill="#f23645"/>
<rect x="781" y="419" width="1" height="1" fill="#f23645"/>
<rect x="784" y="419" width="1" height="1" fill="#f23645"/>
<rect x="787" y="419" width="1" height="1" fill="#f23645"/>
<rect x="790" y="419" width="1" height="1" fill="#f23645"/>
<rect x="793" y="419" width="1" height="1" fill="#f23645"/>
<rect x="796" y="419" width="1" height="1" fill="#f23645"/>
<rect x="799" y="419" width="1" height="1" fill="#f23645"/>
<rect x="802" y="419" width="1" height="1" fill="#f23645"/>
<rect x="805" y="419" width="1" height="1" fill="#f23645"/>
<rect x="808" y="419" width="1" height="1" fill="#f23645"/>
<rect x="811" y="419" width="1" height="1" fill="#f23645"/>
<rect x="814" y="419" width="1" height="1" fill="#f23645"/>
<rect x="817" y="419" width="1" height="1" fill="#f23645"/>
<rect x="820" y="419" width="1" height="1" fill="#f23645"/>
<rect x="823" y="419" width="1" height="1" fill="#f23645"/>
<rect x="826" y="419" width="1" height="1" fill="#f23645"/>
<rect x="829" y="419" width="1" height="1" fill="#f23645"/>
<rect x="832" y="419" width="1" height="1" fill="#f23645"/>
<rect x="835" y="419" width="1" height="1" fill="#f23645"/>
<rect x="838" y="419" width="1" height="1" fill="#f23645"/>
<rect x="841" y="419" width="1" height="1" fill="#f23645"/>
<rect x="844" y="419" width="1" height="1" fill="#f23645"/>
<rect x="847" y="419" width="1" height="1" fill="#f23645"/>
<rect x="850" y="419" width="1" height="1" fill="#f23645"/>
<rect x="853" y="419" width="1" height="1" fill="#f23645"/>
<rect x="856" y="419" width="1" height="1" fill="#f23645"/>
<rect x="859" y="419" width="1" height="1" fill="#f23645"/>
<rect x="862" y="419" width="1" height="1" fill="#f23645"/>
<rect x="865" y="419" width="1" height="1" fill="#f23645"/>
<rect x="868" y="419" width="1" height="1" fill="#f23645"/>
<rect x="871" y="419" width="1" height="1" fill="#f23645"/>
<rect x="874" y="419" width="1" height="1" fill="#f23645"/>
<rect x="877" y="419" width="1" height="1" fill="#f23645"/>
<rect x="880" y="419" width="1" height="1" fill="#f23645"/>
<rect x="883" y="419" width="1" height="1" fill="#f23645"/>
<rect x="886" y="419" width="1" height="1" fill="#f23645"/>
<rect x="889" y="419" width="1" height="1" fill="#f23645"/>
<rect x="892" y="419" width="1" height="1" fill="#f23645"/>
<rect x="895" y="419" width="1" height="1" fill="#f23645"/>
<rect x="898" y="419" width="1" height="1" fill="#f23645"/>
<rect x="901" y="419" width="1" height="1" fill="#f23645"/>
<rect x="904" y="419" width="1" height="1" fill="#f23645"/>
<rect x="907" y="419" width="1" height="1" fill="#f23645"/>
<rect x="910" y="419" width="1" height="1" fill="#f23645"/>
<rect x="913" y="419" width="1" height="1" fill="#f23645"/>
<rect x="916" y="419" width="1" height="1" fill="#f23645"/>
<rect x="919" y="419" width="1" height="1" fill="#f23645"/>
<rect x="922" y="419" width="1" height="1" fill="#f23645"/>
<rect x="925" y="419" width="1" height="1" fill="#f23645"/>
<rect x="928" y="419" width="1" height="1" fill="#f23645"/>
<rect x="931" y="419" width="1" height="1" fill="#f23645"/>
<rect x="934" y="419" width="1" height="1" fill="#f23645"/>
<rect x="937" y="419" width="1" height="1" fill="#f23645"/>
<rect x="940" y="419" width="1" height="1" fill="#f23645"/>
<rect x="943" y="419" width="1" height="1" fill="#f23645"/>
<rect x="946" y="419" width="1" height="1" fill="#f23645"/>
<rect x="949" y="419" width="1" height="1" fill="#f23645"/>
<rect x="952" y="419" width="1" height="1" fill="#f23645"/>
<rect x="955" y="419" width="1" height="1" fill="#f23645"/>
<rect x="958" y="419" width="1" height="1" fill="#f23645"/>
<rect x="961" y="419" width="1" height="1" fill="#f23645"/>
<rect x="964" y="419" width="1" height="1" fill="#f23645"/>
<rect x="967" y="419" width="1" height="1" fill="#f23645"/>
<rect x="970" y="419" width="1" height="1" fill="#f23645"/>
<rect x="973" y="419" width="1" height="1" fill="#f23645"/>
<rect x="976" y="419" width="1" height="1" fill="#f23645"/>
<rect x="979" y="419" width="1" height="1" fill="#f23645"/>
<rect x="982" y="419" width="1" height="1" fill="#f23645"/>
<rect x="985" y="419" width="1" height="1" fill="#f23645"/>
<rect x="988" y="419" width="1" height="1" fill="#f23645"/>
<rect x="991" y="419" width="1" height="1" fill="#f23645"/>
<rect x="994" y="419" width="1" height="1" fill="#f23645"/>
<rect x="997" y="419" width="1" height="1" fill="#f23645"/>
<rect x="1000" y="419" width="1" height="1" fill="#f23645"/>
<rect x="1003" y="419" width="1" height="1" fill="#f23645"/>
<rect x="1006" y="419" width="1" height="1" fill="#f23645"/>
<rect x="1009" y="419" width="1" height="1" fill="#f23645"/>
<rect x="1012" y="419" width="1" height="1" fill="#f23645"/>
<rect x="1015" y="419" width="1" height="1" fill="#f23645"/>
<rect x="1018" y="419" width="1" height="1" fill="#f23645"/>
<rect x="1021" y="419" width="1" height="1" fill="#f23645"/>
<rect x="1024" y="419" width="1" height="1" fill="#f23645"/>
<rect x="1027" y="419" width="1" height="1" fill="#f23645"/>
<rect x="1030" y="419" width="1" height="1" fill="#f23645"/>
<rect x="1033" y="419" width="1" height="1" fill="#f23645"/>
<rect x="1036" y="419" width="1" height="1" fill="#f23645"/>
<rect x="1039" y="419" width="1" height="1" fill="#f23645"/>
<rect x="1042" y="419" width="1" height="1" fill="#f23645"/>
<rect x="1045" y="419" width="1" height="1" fill="#f23645"/>
<rect x="1048" y="419" width="1" height="1" fill="#f23645"/>
<rect x="1051" y="419" width="1" height="1" fill="#f23645"/>
<rect x="1054" y="419" width="1" height="1" fill="#f23645"/>
<rect x="1057" y="419" width="1" height="1" fill="#f23645"/>
<rect x="1060" y="419" width="1" height="1" fill="#f23645"/>
<rect x="1063" y="419" width="1" height="1" fill="#f23645"/>
<rect x="1066" y="419" width="1" height="1" fill="#f23645"/>
<rect x="1069" y="419" width="1" height="1" fill="#f23645"/>
<rect x="1072" y="419" width="1" height="1" fill="#f23645"/>
<rect x="1075" y="419" width="1" height="1" fill="#f23645"/>
<rect x="1078" y="419" width="1" height="1" fill="#f23645"/>
<rect x="1081" y="419" width="1" height="1" fill="#f23645"/>
<rect x="1084" y="419" width="1" height="1" fill="#f23645"/>
<rect x="1087" y="419" width="1" height="1" fill="#f23645"/>
<rect x="1090" y="419" width="1" height="1" fill="#f23645"/>
<rect x="1093" y="419" width="1" height="1" fill="#f23645"/>
<rect x="1096" y="419" width="1" height="1" fill="#f23645"/>
<rect x="1099" y="419" width="1" height="1" fill="#f23645"/>
<rect x="1102" y="419" width="1" height="1" fill="#f23645"/>
<rect x="1105" y="419" width="1" height="1" fill="#f23645"/>
<rect x="1108" y="419" width="1" height="1" fill="#f23645"/>
<rect x="1111" y="419" width="1" height="1" fill="#f23645"/>
<rect x="1114" y="419" width="1" height="1" fill="#f23645"/>
<rect x="1117" y="419" width="1" height="1" fill="#f23645"/>
<rect x="1120" y="419" width="1" height="1" fill="#f23645"/>
<rect x="1123" y="419" width="1" height="1" fill="#f23645"/>
<rect x="1126" y="419" width="1" height="1" fill="#f23645"/>
<rect x="1129" y="419" width="1" height="1" fill="#f23645"/>
<rect x="1132" y="419" width="1" height="1" fill="#f23645"/>
<rect x="1135" y="419" width="1" height="1" fill="#f23645"/>
<rect x="1138" y="419" width="1" height="1" fill="#f23645"/>
<rect x="1141" y="419" width="1" height="1" fill="#f23645"/>
<rect x="1144" y="419" width="1" height="1" fill="#f23645"/>
<rect x="1147" y="419" width="1" height="1" fill="#f23645"/>
<rect x="1150" y="419" width="1" height="1" fill="#f23645"/>
<rect x="1153" y="419" width="1" height="1" fill="#f23645"/>
<rect x="1156" y="419" width="1" height="1" fill="#f23645"/>
<rect x="1159" y="419" width="1" height="1" fill="#f23645"/>
<rect x="1162" y="419" width="1" height="1" fill="#f23645"/>
<rect x="1165" y="419" width="1" height="1" fill="#f23645"/>
<rect x="1168" y="419" width="1" height="1" fill="#f23645"/>
<rect x="1171" y="419" width="1" height="1" fill="#f23645"/>
<rect x="1174" y="419" width="1" height="1" fill="#f23645"/>
<rect x="1177" y="419" width="1" height="1" fill="#f23645"/>
<rect x="1180" y="419" width="1" height="1" fill="#f23645"/>
<rect x="1183" y="419" width="1" height="1" fill="#f23645"/>
<rect x="1186" y="419" width="1" height="1" fill="#f23645"/>
<rect x="1189" y="419" width="1" height="1" fill="#f23645"/>
<rect x="1192" y="419" width="1" height="1" fill="#f23645"/>
<rect x="1195" y="419" width="1" height="1" fill="#f23645"/>
<rect x="1198" y="419" width="1" height="1" fill="#f23645"/>
<rect x="1201" y="419" width="1" height="1" fill="#f23645"/>
<rect x="1204" y="419" width="1" height="1" fill="#f23645"/>
<rect x="1207" y="419" width="1" height="1" fill="#f23645"/>
<rect x="1210" y="419" width="1" height="1" fill="#f23645"/>
<rect x="1213" y="419" width="1" height="1" fill="#f23645"/>
<rect x="1216" y="419" width="1" height="1" fill="#f23645"/>
<rect x="1219" y="419" width="1" height="1" fill="#f23645"/>
<rect x="1222" y="419" width="1" height="1" fill="#f23645"/>
<rect x="1225" y="419" width="1" height="1" fill="#f23645"/>
<rect x="1228" y="419" width="1" height="1" fill="#f23645"/>
<rect x="1231" y="419" width="1" height="1" fill="#f23645"/>
<rect x="1234" y="419" width="1" height="1" fill="#f23645"/>
<rect x="1237" y="419" width="1" height="1" fill="#f23645"/>
<rect x="1240" y="419" width="1" height="1" fill="#f23645"/>
<rect x="1243" y="419" width="1" height="1" fill="#f23645"/>
<rect x="1246" y="419" width="1" height="1" fill="#f23645"/>
<rect x="1249" y="419" width="1" height="1" fill="#f23645"/>
<rect x="1252" y="419" width="1" height="1" fill="#f23645"/>
<rect x="1255" y="419" width="1" height="1" fill="#f23645"/>
<rect x="1258" y="419" width="1" height="1" fill="#f23645"/>
<rect x="1261" y="419" width="1" height="1" fill="#f23645"/>
<rect x="1264" y="419" width="1" height="1" fill="#f23645"/>
<rect x="1267" y="419" width="1" height="1" fill="#f23645"/>
<rect x="1270" y="419" width="1" height="1" fill="#f23645"/>
<rect x="1273" y="419" width="1" height="1" fill="#f23645"/>
<rect x="1276" y="419" width="1" height="1" fill="#f23645"/>
<rect x="1279" y="419" width="1" height="1" fill="#f23645"/>
<rect x="1282" y="419" width="1" height="1" fill="#f23645"/>
<rect x="1285" y="419" width="1" height="1" fill="#f23645"/>
<rect x="1288" y="419" width="1" height="1" fill="#f23645"/>
<rect x="1291" y="419" width="1" height="1" fill="#f23645"/>
<rect x="1294" y="419" width="1" height="1" fill="#f23645"/>
<rect x="1297" y="419" width="1" height="1" fill="#f23645"/>
<rect x="1300" y="419" width="1" height="1" fill="#f23645"/>
<rect x="1303" y="419" width="1" height="1" fill="#f23645"/>
<rect x="1306" y="419" width="1" height="1" fill="#f23645"/>
<rect x="1309" y="419" width="1" height="1" fill="#f23645"/>
<rect x="1312" y="419" width="1" height="1" fill="#f23645"/>
<rect x="1315" y="419" width="1" height="1" fill="#f23645"/>
<rect x="1318" y="419" width="1" height="1" fill="#f23645"/>
<rect x="1321" y="419" width="1" height="1" fill="#f23645"/>
<rect x="1324" y="419" width="1" height="1" fill="#f23645"/>
<rect x="1327" y="419" width="1" height="1" fill="#f23645"/>
<rect x="1330" y="419" width="1" height="1" fill="#f23645"/>
<rect x="1333" y="419" width="1" height="1" fill="#f23645"/>
<rect x="1336" y="419" width="1" height="1" fill="#f23645"/>
<rect x="1339" y="419" width="1" height="1" fill="#f23645"/>
<rect x="1342" y="419" width="1" height="1" fill="#f23645"/>
<rect x="1345" y="419" width="1" height="1" fill="#f23645"/>
<rect x="1348" y="419" width="1" height="1" fill="#f23645"/>
<rect x="1351" y="419" width="1" height="1" fill="#f23645"/>
<rect x="1354" y="419" width="1" height="1" fill="#f23645"/>
<rect x="1357" y="419" width="1" height="1" fill="#f23645"/>
<rect x="1360" y="419" width="1" height="1" fill="#f23645"/>
<rect x="1363" y="419" width="1" height="1" fill="#f23645"/>
<rect x="1366" y="419" width="1" height="1" fill="#f23645"/>
<rect x="1369" y="419" width="1" height="1" fill="#f23645"/>
<rect x="1372" y="419" width="1" height="1" fill="#f23645"/>
<rect x="1375" y="419" width="1" height="1" fill="#f23645"/>
<rect x="1378" y="419" width="1" height="1" fill="#f23645"/>
<rect x="1381" y="419" width="1" height="1" fill="#f23645"/>
<rect x="1384" y="419" width="1" height="1" fill="#f23645"/>
<rect x="1387" y="419" width="1" height="1" fill="#f23645"/>
<rect x="1390" y="419" width="1" height="1" fill="#f23645"/>
<rect x="1393" y="419" width="1" height="1" fill="#f23645"/>
<rect x="1396" y="419" width="1" height="1" fill="#f23645"/>
<rect x="1399" y="419" width="1" height="1" fill="#f23645"/>
<rect x="1402" y="419" width="1" height="1" fill="#f23645"/>
<rect x="1461" y="44" width="72" height="789" fill="#fff"/>
<rect x="7" y="805" width="1526" height="28" fill="#fff"/>
<text x="1469.8" y="80.6" font-size="12.2" fill="#131722" stroke="#131722" stroke-width="0.2" textLength="52.4" lengthAdjust="spacingAndGlyphs">108,000.0</text>
<text x="1469.8" y="122.4" font-size="12.2" fill="#131722" stroke="#131722" stroke-width="0.2" textLength="52.4" lengthAdjust="spacingAndGlyphs">106,000.0</text>
<text x="1469.8" y="164.2" font-size="12.2" fill="#131722" stroke="#131722" stroke-width="0.2" textLength="52.4" lengthAdjust="spacingAndGlyphs">104,000.0</text>
<text x="1469.8" y="206.0" font-size="12.2" fill="#131722" stroke="#131722" stroke-width="0.2" textLength="52.4" lengthAdjust="spacingAndGlyphs">102,000.0</text>
<text x="1469.8" y="247.8" font-size="12.2" fill="#131722" stroke="#131722" stroke-width="0.2" textLength="52.4" lengthAdjust="spacingAndGlyphs">100,000.0</text>
<text x="1469.8" y="289.6" font-size="12.2" fill="#131722" stroke="#131722" stroke-width="0.2" textLength="47" lengthAdjust="spacingAndGlyphs">98,000.0</text>
<text x="1469.8" y="331.4" font-size="12.2" fill="#131722" stroke="#131722" stroke-width="0.2" textLength="47" lengthAdjust="spacingAndGlyphs">96,000.0</text>
<text x="1469.8" y="373.3" font-size="12.2" fill="#131722" stroke="#131722" stroke-width="0.2" textLength="47" lengthAdjust="spacingAndGlyphs">94,000.0</text>
<text x="1469.8" y="415.1" font-size="12.2" fill="#131722" stroke="#131722" stroke-width="0.2" textLength="47" lengthAdjust="spacingAndGlyphs">92,000.0</text>
<text x="1469.8" y="456.9" font-size="12.2" fill="#131722" stroke="#131722" stroke-width="0.2" textLength="47" lengthAdjust="spacingAndGlyphs">90,000.0</text>
<text x="1469.8" y="498.7" font-size="12.2" fill="#131722" stroke="#131722" stroke-width="0.2" textLength="47" lengthAdjust="spacingAndGlyphs">88,000.0</text>
<text x="1469.8" y="540.5" font-size="12.2" fill="#131722" stroke="#131722" stroke-width="0.2" textLength="47" lengthAdjust="spacingAndGlyphs">86,000.0</text>
<text x="1469.8" y="582.3" font-size="12.2" fill="#131722" stroke="#131722" stroke-width="0.2" textLength="47" lengthAdjust="spacingAndGlyphs">84,000.0</text>
<text x="1469.8" y="624.1" font-size="12.2" fill="#131722" stroke="#131722" stroke-width="0.2" textLength="47" lengthAdjust="spacingAndGlyphs">82,000.0</text>
<text x="1469.8" y="665.9" font-size="12.2" fill="#131722" stroke="#131722" stroke-width="0.2" textLength="47" lengthAdjust="spacingAndGlyphs">80,000.0</text>
<text x="1469.8" y="707.7" font-size="12.2" fill="#131722" stroke="#131722" stroke-width="0.2" textLength="47" lengthAdjust="spacingAndGlyphs">78,000.0</text>
<text x="1469.8" y="749.6" font-size="12.2" fill="#131722" stroke="#131722" stroke-width="0.2" textLength="47" lengthAdjust="spacingAndGlyphs">76,000.0</text>
<text x="1469.8" y="791.4" font-size="12.2" fill="#131722" stroke="#131722" stroke-width="0.2" textLength="47" lengthAdjust="spacingAndGlyphs">74,000.0</text>
<rect x="1465.2" y="47.6" width="63.8" height="27" rx="4" fill="#fff" stroke="#eeeff1" stroke-width="1"/>
<text x="1474.3" y="65.9" font-size="12.2" fill="#131722" stroke="#131722" stroke-width="0.15" textLength="27.6" lengthAdjust="spacingAndGlyphs">USDT</text>
<path d="M1406,411 H1461 V428 H1406 Q1404,428 1404,426 V413 Q1404,411 1406,411 Z" fill="#089981"/>
<path d="M1462,411 H1520 Q1522,411 1522,413 V426 Q1522,428 1520,428 H1462 Z" fill="#089981"/>
<text x="1408.5" y="423.8" font-size="12" font-weight="bold" fill="#fff" textLength="48" lengthAdjust="spacingAndGlyphs">BTCUSDT</text>
<text x="1470" y="423.8" font-size="12" font-weight="bold" fill="#fff" textLength="47" lengthAdjust="spacingAndGlyphs">91,646.4</text>
<text x="77.5" y="823.3" text-anchor="middle" font-size="12" fill="#131722" stroke="#131722" stroke-width="0.15">13</text>
<text x="170.4" y="823.3" text-anchor="middle" font-size="12" fill="#131722" stroke="#131722" stroke-width="0.15">15</text>
<text x="263.2" y="823.3" text-anchor="middle" font-size="12" fill="#131722" stroke="#131722" stroke-width="0.15">17</text>
<text x="356.1" y="823.3" text-anchor="middle" font-size="12" fill="#131722" stroke="#131722" stroke-width="0.15">19</text>
<text x="448.9" y="823.3" text-anchor="middle" font-size="12" fill="#131722" stroke="#131722" stroke-width="0.15">21</text>
<text x="541.8" y="823.3" text-anchor="middle" font-size="12" fill="#131722" stroke="#131722" stroke-width="0.15">23</text>
<text x="634.7" y="823.3" text-anchor="middle" font-size="12" fill="#131722" stroke="#131722" stroke-width="0.15">25</text>
<text x="727.5" y="823.3" text-anchor="middle" font-size="12" fill="#131722" stroke="#131722" stroke-width="0.15">27</text>
<text x="820.4" y="823.3" text-anchor="middle" font-size="12" fill="#131722" stroke="#131722" stroke-width="0.15">29</text>
<text x="913.2" y="823.3" text-anchor="middle" font-size="12" fill="#131722" stroke="#131722" stroke-width="0.15" font-weight="bold">Dec</text>
<text x="1006.1" y="823.3" text-anchor="middle" font-size="12" fill="#131722" stroke="#131722" stroke-width="0.15">3</text>
<text x="1099.0" y="823.3" text-anchor="middle" font-size="12" fill="#131722" stroke="#131722" stroke-width="0.15">5</text>
<text x="1191.8" y="823.3" text-anchor="middle" font-size="12" fill="#131722" stroke="#131722" stroke-width="0.15">7</text>
<text x="1284.7" y="823.3" text-anchor="middle" font-size="12" fill="#131722" stroke="#131722" stroke-width="0.15">9</text>
<text x="1377.5" y="823.3" text-anchor="middle" font-size="12" fill="#131722" stroke="#131722" stroke-width="0.15">11</text>
<rect x="6.5" y="43.5" width="1527" height="790" fill="none" stroke="#2a2e39" stroke-width="1"/>
<text x="15" y="64.7" font-size="12.4" fill="#131722" textLength="49.4" lengthAdjust="spacingAndGlyphs">Vol · BTC</text>
<text x="6.8" y="16.6" font-size="12" font-weight="bold" fill="#131722" textLength="73.1" lengthAdjust="spacingAndGlyphs">MMBTtrader</text>
<text x="84.4" y="16.6" font-size="12" fill="#131722" textLength="366.9" lengthAdjust="spacingAndGlyphs">published on TradingView.com, December 02, 2025 17:34:25 EST</text>
<text x="6.8" y="33.5" font-size="12" font-weight="bold" fill="#131722" textLength="90.2" lengthAdjust="spacingAndGlyphs">BYBIT:BTCUSDT,</text>
<text x="102.7" y="33.5" font-size="12" font-weight="bold" fill="#131722" textLength="20.0" lengthAdjust="spacingAndGlyphs">120</text>
<text x="128" y="33.5" font-size="12" fill="#131722" textLength="49.7" lengthAdjust="spacingAndGlyphs">91,646.4</text>
<polygon points="180.8,34.1 191.5,34.1 186.15,25.7" fill="#26a69a"/>
<text x="195.8" y="33.5" font-size="12" fill="#131722" textLength="47.7" lengthAdjust="spacingAndGlyphs">+5,361.6</text>
<text x="248.4" y="33.5" font-size="12" fill="#131722" textLength="49.1" lengthAdjust="spacingAndGlyphs">(+6.21%)</text>
<text x="302.7" y="33.5" font-size="12" font-weight="bold" fill="#131722" textLength="11.7" lengthAdjust="spacingAndGlyphs">O:</text>
<text x="316.7" y="33.5" font-size="12" fill="#26a69a" textLength="48.9" lengthAdjust="spacingAndGlyphs">91,564.3</text>
<text x="370.8" y="33.5" font-size="12" font-weight="bold" fill="#131722" textLength="11.2" lengthAdjust="spacingAndGlyphs">H:</text>
<text x="384.5" y="33.5" font-size="12" fill="#26a69a" textLength="48.3" lengthAdjust="spacingAndGlyphs">91,893.9</text>
<text x="438" y="33.5" font-size="12" font-weight="bold" fill="#131722" textLength="8.4" lengthAdjust="spacingAndGlyphs">L:</text>
<text x="448.8" y="33.5" font-size="12" fill="#26a69a" textLength="47.7" lengthAdjust="spacingAndGlyphs">91,515.8</text>
<text x="501.8" y="33.5" font-size="12" font-weight="bold" fill="#131722" textLength="10.7" lengthAdjust="spacingAndGlyphs">C:</text>
<text x="514.6" y="33.5" font-size="12" fill="#26a69a" textLength="48.1" lengthAdjust="spacingAndGlyphs">91,646.4</text>
<g fill="#131722"><path d="M6,845.5 H15 V856.8 H10.2 V850 H6 Z"/><circle cx="18.9" cy="847.7" r="1.95"/><path d="M22.5,845.5 H28.6 L24.7,856.8 H18.9 Z"/></g>
<text x="33" y="856.8" font-size="15.6" font-weight="bold" fill="#131722" textLength="92" lengthAdjust="spacingAndGlyphs">TradingView</text>
</svg>
</body></html>
